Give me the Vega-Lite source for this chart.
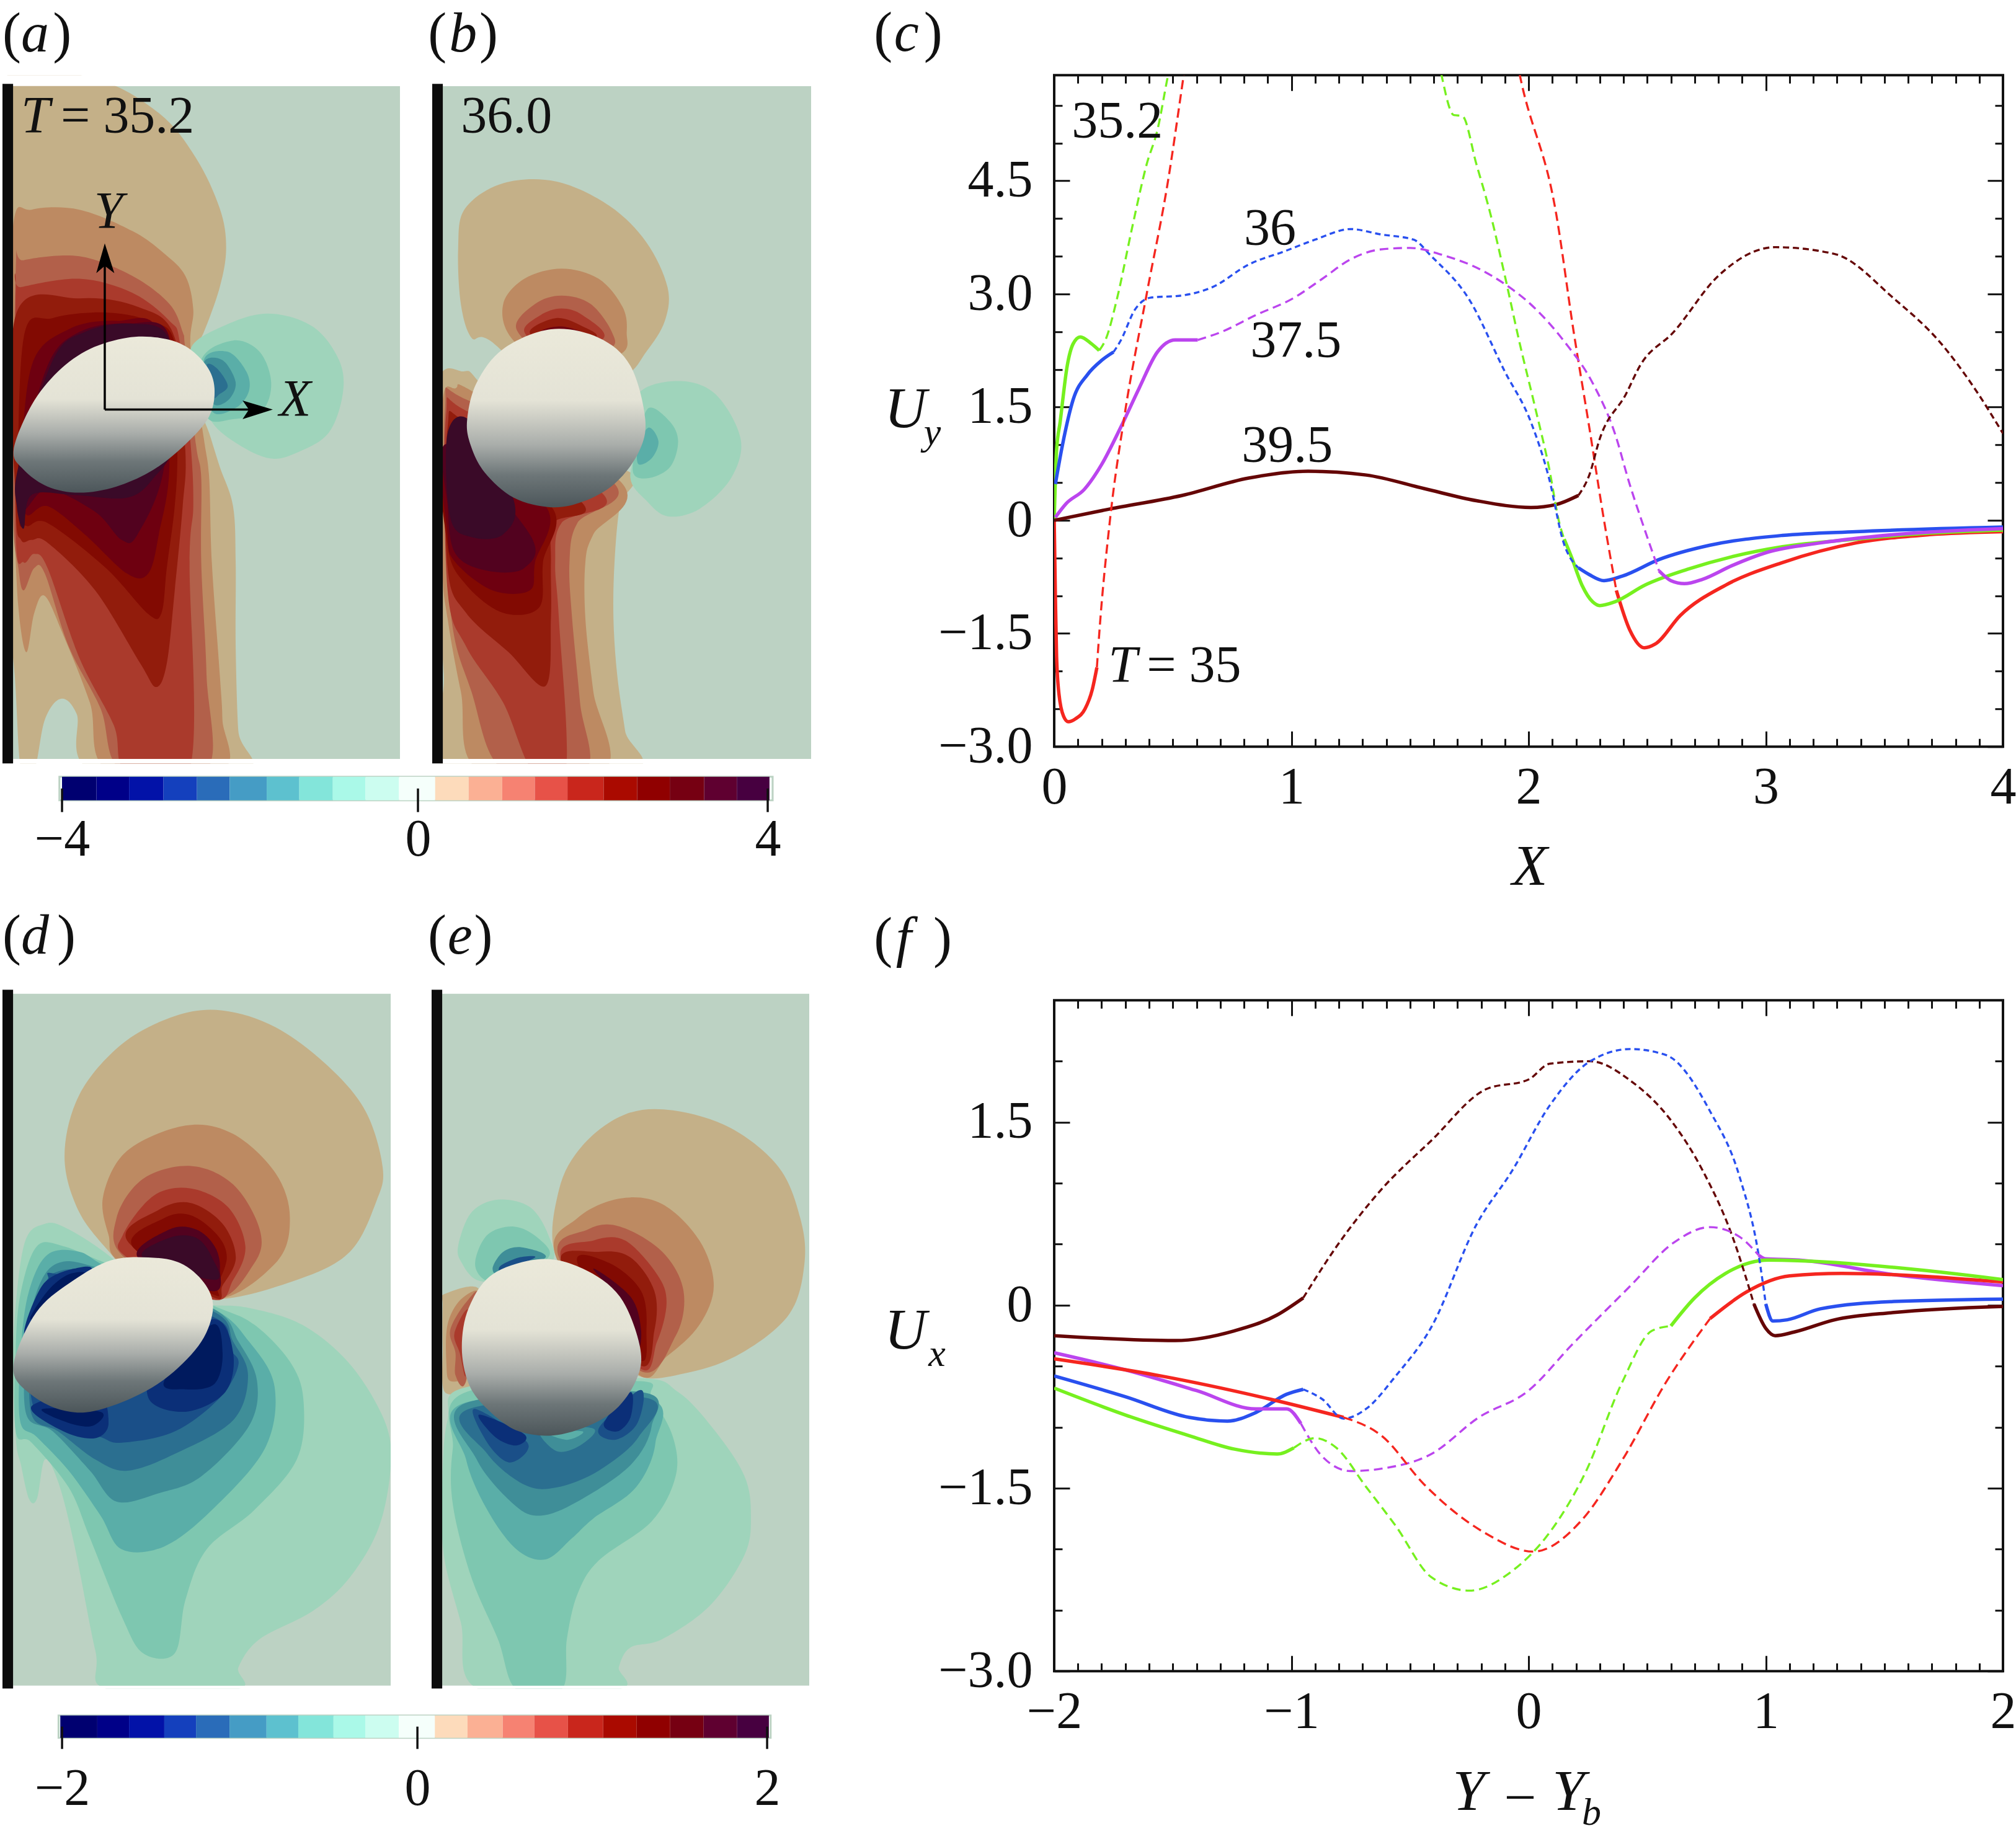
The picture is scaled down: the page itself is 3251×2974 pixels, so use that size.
{"$schema":"https://vega.github.io/schema/vega-lite/v6.json","background":"white","padding":{"left":4,"top":8.2,"right":0,"bottom":0},"spacing":99,"config":{"view":{"stroke":null},"text":{"font":"Liberation Serif","fontSize":84,"align":"left","baseline":"alphabetic","color":"#111111"},"axis":{"labelFont":"Liberation Serif","labelColor":"#111111"}},
"datasets":{
"a":[{"k":1,"l":1,"x":10,"y":140},{"k":1,"l":1,"x":180,"y":140},{"k":1,"l":1,"x":300,"y":200},{"k":1,"l":1,"x":370,"y":280},{"k":1,"l":1,"x":415,"y":370},{"k":1,"l":1,"x":427,"y":440},{"k":1,"l":1,"x":415,"y":510},{"k":1,"l":1,"x":385,"y":590},{"k":1,"l":1,"x":360,"y":640},{"k":1,"l":1,"x":380,"y":730},{"k":1,"l":1,"x":395,"y":770},{"k":1,"l":1,"x":415,"y":830},{"k":1,"l":1,"x":440,"y":900},{"k":1,"l":1,"x":445,"y":1000},{"k":1,"l":1,"x":445,"y":1150},{"k":1,"l":1,"x":450,"y":1300},{"k":1,"l":1,"x":460,"y":1370},{"k":1,"l":1,"x":175,"y":1370},{"k":1,"l":1,"x":145,"y":1270},{"k":1,"l":1,"x":115,"y":1243},{"k":1,"l":1,"x":85,"y":1280},{"k":1,"l":1,"x":65,"y":1370},{"k":1,"l":1,"x":40,"y":1370},{"k":1,"l":1,"x":28,"y":1200},{"k":1,"l":1,"x":10,"y":1000},{"k":1,"l":1,"x":10,"y":500},
{"k":2,"l":2,"x":60,"y":372},{"k":2,"l":2,"x":150,"y":372},{"k":2,"l":2,"x":250,"y":410},{"k":2,"l":2,"x":310,"y":450},{"k":2,"l":2,"x":350,"y":490},{"k":2,"l":2,"x":365,"y":550},{"k":2,"l":2,"x":360,"y":620},{"k":2,"l":2,"x":385,"y":780},{"k":2,"l":2,"x":395,"y":850},{"k":2,"l":2,"x":400,"y":1000},{"k":2,"l":2,"x":415,"y":1200},{"k":2,"l":2,"x":420,"y":1280},{"k":2,"l":2,"x":418,"y":1370},{"k":2,"l":2,"x":205,"y":1370},{"k":2,"l":2,"x":170,"y":1250},{"k":2,"l":2,"x":120,"y":1130},{"k":2,"l":2,"x":85,"y":1060},{"k":2,"l":2,"x":65,"y":1090},{"k":2,"l":2,"x":50,"y":1160},{"k":2,"l":2,"x":35,"y":1080},{"k":2,"l":2,"x":25,"y":900},{"k":2,"l":2,"x":10,"y":700},{"k":2,"l":2,"x":25,"y":400},
{"k":3,"l":3,"x":30,"y":480},{"k":3,"l":3,"x":45,"y":462},{"k":3,"l":3,"x":150,"y":455},{"k":3,"l":3,"x":250,"y":490},{"k":3,"l":3,"x":320,"y":540},{"k":3,"l":3,"x":345,"y":590},{"k":3,"l":3,"x":350,"y":620},{"k":3,"l":3,"x":370,"y":790},{"k":3,"l":3,"x":380,"y":850},{"k":3,"l":3,"x":380,"y":1000},{"k":3,"l":3,"x":390,"y":1200},{"k":3,"l":3,"x":390,"y":1370},{"k":3,"l":3,"x":230,"y":1370},{"k":3,"l":3,"x":190,"y":1260},{"k":3,"l":3,"x":130,"y":1150},{"k":3,"l":3,"x":85,"y":1020},{"k":3,"l":3,"x":65,"y":1010},{"k":3,"l":3,"x":45,"y":1050},{"k":3,"l":3,"x":35,"y":1010},{"k":3,"l":3,"x":25,"y":900},
{"k":4,"l":4,"x":30,"y":520},{"k":4,"l":4,"x":40,"y":510},{"k":4,"l":4,"x":150,"y":495},{"k":4,"l":4,"x":250,"y":520},{"k":4,"l":4,"x":320,"y":570},{"k":4,"l":4,"x":340,"y":610},{"k":4,"l":4,"x":360,"y":790},{"k":4,"l":4,"x":365,"y":900},{"k":4,"l":4,"x":358,"y":1000},{"k":4,"l":4,"x":358,"y":1370},{"k":4,"l":4,"x":238,"y":1370},{"k":4,"l":4,"x":215,"y":1290},{"k":4,"l":4,"x":150,"y":1170},{"k":4,"l":4,"x":90,"y":1010},{"k":4,"l":4,"x":65,"y":985},{"k":4,"l":4,"x":45,"y":1000},{"k":4,"l":4,"x":30,"y":950},
{"k":5,"l":5,"x":30,"y":560},{"k":5,"l":5,"x":150,"y":530},{"k":5,"l":5,"x":260,"y":545},{"k":5,"l":5,"x":330,"y":600},{"k":5,"l":5,"x":350,"y":800},{"k":5,"l":5,"x":345,"y":900},{"k":5,"l":5,"x":330,"y":1050},{"k":5,"l":5,"x":315,"y":1180},{"k":5,"l":5,"x":295,"y":1222},{"k":5,"l":5,"x":265,"y":1180},{"k":5,"l":5,"x":180,"y":1050},{"k":5,"l":5,"x":90,"y":965},{"k":5,"l":5,"x":60,"y":960},{"k":5,"l":5,"x":40,"y":960},{"k":5,"l":5,"x":30,"y":900},
{"k":6,"l":6,"x":45,"y":600},{"k":6,"l":6,"x":100,"y":565},{"k":6,"l":6,"x":200,"y":555},{"k":6,"l":6,"x":280,"y":570},{"k":6,"l":6,"x":330,"y":610},{"k":6,"l":6,"x":335,"y":800},{"k":6,"l":6,"x":330,"y":900},{"k":6,"l":6,"x":315,"y":1010},{"k":6,"l":6,"x":305,"y":1090},{"k":6,"l":6,"x":280,"y":1092},{"k":6,"l":6,"x":200,"y":1010},{"k":6,"l":6,"x":90,"y":930},{"k":6,"l":6,"x":50,"y":935},{"k":6,"l":6,"x":35,"y":900},
{"k":7,"l":7,"x":60,"y":650},{"k":7,"l":7,"x":130,"y":585},{"k":7,"l":7,"x":220,"y":570},{"k":7,"l":7,"x":300,"y":590},{"k":7,"l":7,"x":320,"y":820},{"k":7,"l":7,"x":300,"y":950},{"k":7,"l":7,"x":280,"y":1020},{"k":7,"l":7,"x":240,"y":1020},{"k":7,"l":7,"x":160,"y":950},{"k":7,"l":7,"x":90,"y":900},{"k":7,"l":7,"x":50,"y":915},{"k":7,"l":7,"x":40,"y":850},
{"k":8,"l":8,"x":90,"y":650},{"k":8,"l":8,"x":150,"y":590},{"k":8,"l":8,"x":240,"y":575},{"k":8,"l":8,"x":320,"y":600},{"k":8,"l":8,"x":310,"y":830},{"k":8,"l":8,"x":260,"y":950},{"k":8,"l":8,"x":230,"y":960},{"k":8,"l":8,"x":180,"y":910},{"k":8,"l":8,"x":90,"y":870},{"k":8,"l":8,"x":45,"y":905},{"k":8,"l":8,"x":40,"y":830},
{"k":9,"l":9,"x":35,"y":830},{"k":9,"l":9,"x":100,"y":640},{"k":9,"l":9,"x":160,"y":590},{"k":9,"l":9,"x":250,"y":575},{"k":9,"l":9,"x":320,"y":605},{"k":9,"l":9,"x":330,"y":780},{"k":9,"l":9,"x":290,"y":850},{"k":9,"l":9,"x":240,"y":885},{"k":9,"l":9,"x":140,"y":880},{"k":9,"l":9,"x":60,"y":880},{"k":9,"l":9,"x":45,"y":940},{"k":9,"l":9,"x":32,"y":900},
{"k":10,"l":-1,"x":360,"y":620},{"k":10,"l":-1,"x":420,"y":580},{"k":10,"l":-1,"x":505,"y":557},{"k":10,"l":-1,"x":590,"y":580},{"k":10,"l":-1,"x":640,"y":640},{"k":10,"l":-1,"x":647,"y":700},{"k":10,"l":-1,"x":620,"y":770},{"k":10,"l":-1,"x":560,"y":805},{"k":10,"l":-1,"x":510,"y":815},{"k":10,"l":-1,"x":450,"y":790},{"k":10,"l":-1,"x":400,"y":750},{"k":10,"l":-1,"x":380,"y":690},
{"k":11,"l":-2,"x":380,"y":640},{"k":11,"l":-2,"x":440,"y":605},{"k":11,"l":-2,"x":490,"y":625},{"k":11,"l":-2,"x":512,"y":680},{"k":11,"l":-2,"x":495,"y":730},{"k":11,"l":-2,"x":440,"y":745},{"k":11,"l":-2,"x":390,"y":740},
{"k":12,"l":-3,"x":385,"y":640},{"k":12,"l":-3,"x":430,"y":625},{"k":12,"l":-3,"x":465,"y":660},{"k":12,"l":-3,"x":470,"y":695},{"k":12,"l":-3,"x":445,"y":725},{"k":12,"l":-3,"x":400,"y":730},
{"k":13,"l":-4,"x":385,"y":645},{"k":13,"l":-4,"x":420,"y":640},{"k":13,"l":-4,"x":445,"y":680},{"k":13,"l":-4,"x":430,"y":712},{"k":13,"l":-4,"x":400,"y":715},
{"k":14,"l":-5,"x":390,"y":650},{"k":14,"l":-5,"x":410,"y":655},{"k":14,"l":-5,"x":430,"y":685},{"k":14,"l":-5,"x":415,"y":700},{"k":14,"l":-5,"x":400,"y":705}],
"ball_a":[{"x":26,"y":800},{"x":60,"y":720},{"x":110,"y":660},{"x":170,"y":620},{"x":240,"y":600},{"x":300,"y":600},{"x":350,"y":615},{"x":390,"y":650},{"x":405,"y":690},{"x":395,"y":740},{"x":350,"y":790},{"x":290,"y":835},{"x":220,"y":865},{"x":150,"y":876},{"x":90,"y":865},{"x":45,"y":835}],
"b":[{"k":1,"l":1,"x":865,"y":440},{"k":1,"l":1,"x":878,"y":370},{"k":1,"l":1,"x":950,"y":325},{"k":1,"l":1,"x":1050,"y":322},{"k":1,"l":1,"x":1150,"y":365},{"k":1,"l":1,"x":1220,"y":430},{"k":1,"l":1,"x":1260,"y":510},{"k":1,"l":1,"x":1255,"y":570},{"k":1,"l":1,"x":1220,"y":625},{"k":1,"l":1,"x":1175,"y":670},{"k":1,"l":1,"x":1050,"y":700},{"k":1,"l":1,"x":925,"y":605},{"k":1,"l":1,"x":890,"y":600},{"k":1,"l":1,"x":870,"y":540},
{"k":2,"l":2,"x":950,"y":540},{"k":2,"l":2,"x":990,"y":495},{"k":2,"l":2,"x":1060,"y":477},{"k":2,"l":2,"x":1130,"y":495},{"k":2,"l":2,"x":1175,"y":545},{"k":2,"l":2,"x":1183,"y":590},{"k":2,"l":2,"x":1170,"y":630},{"k":2,"l":2,"x":1050,"y":660},{"k":2,"l":2,"x":965,"y":600},
{"k":3,"l":3,"x":975,"y":585},{"k":3,"l":3,"x":1010,"y":540},{"k":3,"l":3,"x":1060,"y":525},{"k":3,"l":3,"x":1115,"y":540},{"k":3,"l":3,"x":1155,"y":590},{"k":3,"l":3,"x":1150,"y":620},{"k":3,"l":3,"x":1050,"y":640},
{"k":4,"l":4,"x":990,"y":590},{"k":4,"l":4,"x":1020,"y":560},{"k":4,"l":4,"x":1060,"y":548},{"k":4,"l":4,"x":1100,"y":560},{"k":4,"l":4,"x":1140,"y":600},{"k":4,"l":4,"x":1050,"y":630},
{"k":5,"l":5,"x":1000,"y":590},{"k":5,"l":5,"x":1050,"y":565},{"k":5,"l":5,"x":1100,"y":580},{"k":5,"l":5,"x":1125,"y":600},{"k":5,"l":5,"x":1050,"y":620},
{"k":6,"l":7,"x":1020,"y":590},{"k":6,"l":7,"x":1060,"y":580},{"k":6,"l":7,"x":1105,"y":595},{"k":6,"l":7,"x":1060,"y":610},
{"k":7,"l":1,"x":825,"y":690},{"k":7,"l":1,"x":875,"y":660},{"k":7,"l":1,"x":905,"y":680},{"k":7,"l":1,"x":1000,"y":800},{"k":7,"l":1,"x":1190,"y":840},{"k":7,"l":1,"x":1170,"y":900},{"k":7,"l":1,"x":1160,"y":1000},{"k":7,"l":1,"x":1158,"y":1100},{"k":7,"l":1,"x":1165,"y":1200},{"k":7,"l":1,"x":1180,"y":1300},{"k":7,"l":1,"x":1192,"y":1370},{"k":7,"l":1,"x":850,"y":1370},{"k":7,"l":1,"x":838,"y":1200},{"k":7,"l":1,"x":825,"y":1000},
{"k":8,"l":2,"x":835,"y":720},{"k":8,"l":2,"x":860,"y":690},{"k":8,"l":2,"x":900,"y":700},{"k":8,"l":2,"x":1175,"y":860},{"k":8,"l":2,"x":1120,"y":950},{"k":8,"l":2,"x":1105,"y":1000},{"k":8,"l":2,"x":1105,"y":1100},{"k":8,"l":2,"x":1120,"y":1230},{"k":8,"l":2,"x":1140,"y":1370},{"k":8,"l":2,"x":905,"y":1370},{"k":8,"l":2,"x":870,"y":1230},{"k":8,"l":2,"x":845,"y":1100},{"k":8,"l":2,"x":835,"y":1000},
{"k":9,"l":3,"x":840,"y":730},{"k":9,"l":3,"x":880,"y":710},{"k":9,"l":3,"x":1160,"y":860},{"k":9,"l":3,"x":1090,"y":930},{"k":9,"l":3,"x":1075,"y":1000},{"k":9,"l":3,"x":1080,"y":1100},{"k":9,"l":3,"x":1095,"y":1250},{"k":9,"l":3,"x":1105,"y":1370},{"k":9,"l":3,"x":950,"y":1370},{"k":9,"l":3,"x":890,"y":1230},{"k":9,"l":3,"x":850,"y":1080},
{"k":10,"l":4,"x":842,"y":740},{"k":10,"l":4,"x":880,"y":730},{"k":10,"l":4,"x":1140,"y":880},{"k":10,"l":4,"x":1060,"y":930},{"k":10,"l":4,"x":1048,"y":1000},{"k":10,"l":4,"x":1055,"y":1100},{"k":10,"l":4,"x":1068,"y":1370},{"k":10,"l":4,"x":1005,"y":1370},{"k":10,"l":4,"x":950,"y":1250},{"k":10,"l":4,"x":880,"y":1150},{"k":10,"l":4,"x":845,"y":1050},
{"k":11,"l":5,"x":845,"y":760},{"k":11,"l":5,"x":880,"y":750},{"k":11,"l":5,"x":1100,"y":895},{"k":11,"l":5,"x":1045,"y":930},{"k":11,"l":5,"x":1040,"y":1000},{"k":11,"l":5,"x":1040,"y":1100},{"k":11,"l":5,"x":1030,"y":1220},{"k":11,"l":5,"x":960,"y":1160},{"k":11,"l":5,"x":880,"y":1090},{"k":11,"l":5,"x":845,"y":1010},
{"k":12,"l":6,"x":848,"y":800},{"k":12,"l":6,"x":1040,"y":900},{"k":12,"l":6,"x":1025,"y":1000},{"k":12,"l":6,"x":1018,"y":1080},{"k":12,"l":6,"x":950,"y":1090},{"k":12,"l":6,"x":880,"y":1040},{"k":12,"l":6,"x":845,"y":970},
{"k":13,"l":7,"x":848,"y":800},{"k":13,"l":7,"x":1030,"y":900},{"k":13,"l":7,"x":1010,"y":1000},{"k":13,"l":7,"x":1000,"y":1050},{"k":13,"l":7,"x":930,"y":1050},{"k":13,"l":7,"x":860,"y":1000},{"k":13,"l":7,"x":845,"y":950},
{"k":14,"l":8,"x":846,"y":790},{"k":14,"l":8,"x":1000,"y":950},{"k":14,"l":8,"x":990,"y":1010},{"k":14,"l":8,"x":920,"y":1015},{"k":14,"l":8,"x":860,"y":985},{"k":14,"l":8,"x":845,"y":900},
{"k":15,"l":9,"x":845,"y":770},{"k":15,"l":9,"x":890,"y":750},{"k":15,"l":9,"x":970,"y":890},{"k":15,"l":9,"x":950,"y":950},{"k":15,"l":9,"x":890,"y":955},{"k":15,"l":9,"x":850,"y":920},
{"k":16,"l":-1,"x":1190,"y":850},{"k":16,"l":-1,"x":1205,"y":780},{"k":16,"l":-1,"x":1205,"y":700},{"k":16,"l":-1,"x":1280,"y":677},{"k":16,"l":-1,"x":1350,"y":700},{"k":16,"l":-1,"x":1398,"y":780},{"k":16,"l":-1,"x":1380,"y":850},{"k":16,"l":-1,"x":1320,"y":905},{"k":16,"l":-1,"x":1260,"y":918},{"k":16,"l":-1,"x":1220,"y":890},
{"k":17,"l":-2,"x":1205,"y":780},{"k":17,"l":-2,"x":1225,"y":725},{"k":17,"l":-2,"x":1265,"y":750},{"k":17,"l":-2,"x":1280,"y":785},{"k":17,"l":-2,"x":1265,"y":830},{"k":17,"l":-2,"x":1225,"y":850},{"k":17,"l":-2,"x":1195,"y":840},
{"k":18,"l":-3,"x":1205,"y":790},{"k":18,"l":-3,"x":1225,"y":760},{"k":18,"l":-3,"x":1243,"y":785},{"k":18,"l":-3,"x":1230,"y":815},{"k":18,"l":-3,"x":1205,"y":825}],
"ball_b":[{"x":882,"y":745},{"x":900,"y":680},{"x":950,"y":620},{"x":1040,"y":585},{"x":1130,"y":600},{"x":1190,"y":650},{"x":1218,"y":745},{"x":1205,"y":805},{"x":1160,"y":860},{"x":1100,"y":892},{"x":1040,"y":902},{"x":970,"y":885},{"x":915,"y":840},{"x":888,"y":790}],
"d":[{"k":1,"l":1,"x":122,"y":460},{"k":1,"l":1,"x":150,"y":350},{"k":1,"l":1,"x":230,"y":260},{"k":1,"l":1,"x":330,"y":210},{"k":1,"l":1,"x":420,"y":200},{"k":1,"l":1,"x":520,"y":230},{"k":1,"l":1,"x":620,"y":300},{"k":1,"l":1,"x":690,"y":380},{"k":1,"l":1,"x":722,"y":480},{"k":1,"l":1,"x":710,"y":540},{"k":1,"l":1,"x":660,"y":630},{"k":1,"l":1,"x":560,"y":680},{"k":1,"l":1,"x":400,"y":715},{"k":1,"l":1,"x":250,"y":680},{"k":1,"l":1,"x":215,"y":640},{"k":1,"l":1,"x":150,"y":560},
{"k":2,"l":2,"x":195,"y":530},{"k":2,"l":2,"x":240,"y":450},{"k":2,"l":2,"x":350,"y":405},{"k":2,"l":2,"x":440,"y":420},{"k":2,"l":2,"x":520,"y":490},{"k":2,"l":2,"x":547,"y":570},{"k":2,"l":2,"x":520,"y":650},{"k":2,"l":2,"x":400,"y":715},{"k":2,"l":2,"x":230,"y":650},{"k":2,"l":2,"x":205,"y":600},
{"k":3,"l":3,"x":220,"y":570},{"k":3,"l":3,"x":270,"y":500},{"k":3,"l":3,"x":360,"y":477},{"k":3,"l":3,"x":440,"y":510},{"k":3,"l":3,"x":490,"y":590},{"k":3,"l":3,"x":480,"y":650},{"k":3,"l":3,"x":400,"y":715},{"k":3,"l":3,"x":235,"y":640},
{"k":4,"l":4,"x":232,"y":600},{"k":4,"l":4,"x":290,"y":530},{"k":4,"l":4,"x":360,"y":517},{"k":4,"l":4,"x":430,"y":550},{"k":4,"l":4,"x":463,"y":620},{"k":4,"l":4,"x":440,"y":680},{"k":4,"l":4,"x":400,"y":715},{"k":4,"l":4,"x":240,"y":640},
{"k":5,"l":5,"x":240,"y":610},{"k":5,"l":5,"x":300,"y":555},{"k":5,"l":5,"x":360,"y":543},{"k":5,"l":5,"x":420,"y":580},{"k":5,"l":5,"x":445,"y":640},{"k":5,"l":5,"x":420,"y":690},{"k":5,"l":5,"x":400,"y":710},
{"k":6,"l":6,"x":250,"y":620},{"k":6,"l":6,"x":310,"y":570},{"k":6,"l":6,"x":360,"y":565},{"k":6,"l":6,"x":410,"y":600},{"k":6,"l":6,"x":428,"y":640},{"k":6,"l":6,"x":410,"y":690},{"k":6,"l":6,"x":400,"y":705},
{"k":7,"l":8,"x":260,"y":640},{"k":7,"l":8,"x":320,"y":590},{"k":7,"l":8,"x":370,"y":590},{"k":7,"l":8,"x":405,"y":620},{"k":7,"l":8,"x":415,"y":660},{"k":7,"l":8,"x":400,"y":700},
{"k":8,"l":9,"x":270,"y":640},{"k":8,"l":9,"x":320,"y":605},{"k":8,"l":9,"x":370,"y":605},{"k":8,"l":9,"x":400,"y":640},{"k":8,"l":9,"x":405,"y":680},
{"k":9,"l":-1,"x":400,"y":725},{"k":9,"l":-1,"x":470,"y":730},{"k":9,"l":-1,"x":570,"y":760},{"k":9,"l":-1,"x":660,"y":830},{"k":9,"l":-1,"x":725,"y":930},{"k":9,"l":-1,"x":737,"y":1010},{"k":9,"l":-1,"x":715,"y":1120},{"k":9,"l":-1,"x":660,"y":1210},{"k":9,"l":-1,"x":590,"y":1270},{"k":9,"l":-1,"x":490,"y":1320},{"k":9,"l":-1,"x":450,"y":1370},{"k":9,"l":-1,"x":445,"y":1410},{"k":9,"l":-1,"x":205,"y":1410},{"k":9,"l":-1,"x":180,"y":1340},{"k":9,"l":-1,"x":140,"y":1150},{"k":9,"l":-1,"x":110,"y":1040},{"k":9,"l":-1,"x":85,"y":1000},{"k":9,"l":-1,"x":70,"y":1070},{"k":9,"l":-1,"x":55,"y":1070},{"k":9,"l":-1,"x":40,"y":1010},{"k":9,"l":-1,"x":30,"y":960},{"k":9,"l":-1,"x":25,"y":800},{"k":9,"l":-1,"x":45,"y":620},{"k":9,"l":-1,"x":85,"y":580},{"k":9,"l":-1,"x":130,"y":590},{"k":9,"l":-1,"x":210,"y":640},{"k":9,"l":-1,"x":300,"y":720},
{"k":10,"l":-2,"x":400,"y":725},{"k":10,"l":-2,"x":480,"y":760},{"k":10,"l":-2,"x":550,"y":830},{"k":10,"l":-2,"x":573,"y":900},{"k":10,"l":-2,"x":560,"y":1000},{"k":10,"l":-2,"x":480,"y":1090},{"k":10,"l":-2,"x":390,"y":1160},{"k":10,"l":-2,"x":350,"y":1250},{"k":10,"l":-2,"x":330,"y":1345},{"k":10,"l":-2,"x":270,"y":1345},{"k":10,"l":-2,"x":230,"y":1280},{"k":10,"l":-2,"x":170,"y":1140},{"k":10,"l":-2,"x":130,"y":1050},{"k":10,"l":-2,"x":60,"y":970},{"k":10,"l":-2,"x":30,"y":950},{"k":10,"l":-2,"x":30,"y":800},{"k":10,"l":-2,"x":40,"y":700},{"k":10,"l":-2,"x":70,"y":620},{"k":10,"l":-2,"x":120,"y":620},{"k":10,"l":-2,"x":200,"y":650},
{"k":11,"l":-3,"x":400,"y":730},{"k":11,"l":-3,"x":470,"y":790},{"k":11,"l":-3,"x":518,"y":870},{"k":11,"l":-3,"x":500,"y":980},{"k":11,"l":-3,"x":400,"y":1090},{"k":11,"l":-3,"x":310,"y":1155},{"k":11,"l":-3,"x":230,"y":1160},{"k":11,"l":-3,"x":190,"y":1100},{"k":11,"l":-3,"x":130,"y":1020},{"k":11,"l":-3,"x":70,"y":960},{"k":11,"l":-3,"x":38,"y":930},{"k":11,"l":-3,"x":40,"y":800},{"k":11,"l":-3,"x":55,"y":700},{"k":11,"l":-3,"x":90,"y":635},{"k":11,"l":-3,"x":150,"y":630},{"k":11,"l":-3,"x":210,"y":660},
{"k":12,"l":-4,"x":400,"y":730},{"k":12,"l":-4,"x":450,"y":790},{"k":12,"l":-4,"x":485,"y":860},{"k":12,"l":-4,"x":470,"y":940},{"k":12,"l":-4,"x":380,"y":1030},{"k":12,"l":-4,"x":300,"y":1060},{"k":12,"l":-4,"x":220,"y":1075},{"k":12,"l":-4,"x":170,"y":1020},{"k":12,"l":-4,"x":100,"y":950},{"k":12,"l":-4,"x":50,"y":920},{"k":12,"l":-4,"x":50,"y":800},{"k":12,"l":-4,"x":70,"y":700},{"k":12,"l":-4,"x":110,"y":650},{"k":12,"l":-4,"x":190,"y":660},
{"k":13,"l":-5,"x":400,"y":735},{"k":13,"l":-5,"x":440,"y":790},{"k":13,"l":-5,"x":468,"y":850},{"k":13,"l":-5,"x":440,"y":930},{"k":13,"l":-5,"x":330,"y":990},{"k":13,"l":-5,"x":240,"y":1020},{"k":13,"l":-5,"x":180,"y":1000},{"k":13,"l":-5,"x":110,"y":950},{"k":13,"l":-5,"x":60,"y":920},{"k":13,"l":-5,"x":60,"y":800},{"k":13,"l":-5,"x":80,"y":700},{"k":13,"l":-5,"x":110,"y":665},{"k":13,"l":-5,"x":180,"y":670},
{"k":14,"l":-6,"x":400,"y":745},{"k":14,"l":-6,"x":430,"y":800},{"k":14,"l":-6,"x":450,"y":830},{"k":14,"l":-6,"x":415,"y":890},{"k":14,"l":-6,"x":330,"y":950},{"k":14,"l":-6,"x":230,"y":970},{"k":14,"l":-6,"x":190,"y":960},{"k":14,"l":-6,"x":120,"y":935},{"k":14,"l":-6,"x":65,"y":910},{"k":14,"l":-6,"x":60,"y":810},{"k":14,"l":-6,"x":90,"y":690},{"k":14,"l":-6,"x":120,"y":672},
{"k":15,"l":-7,"x":405,"y":750},{"k":15,"l":-7,"x":440,"y":810},{"k":15,"l":-7,"x":425,"y":880},{"k":15,"l":-7,"x":350,"y":915},{"k":15,"l":-7,"x":280,"y":890},{"k":15,"l":-7,"x":300,"y":800},
{"k":16,"l":-7,"x":60,"y":905},{"k":16,"l":-7,"x":120,"y":950},{"k":16,"l":-7,"x":180,"y":962},{"k":16,"l":-7,"x":205,"y":935},{"k":16,"l":-7,"x":180,"y":880},
{"k":17,"l":-7,"x":50,"y":780},{"k":17,"l":-7,"x":80,"y":690},{"k":17,"l":-7,"x":140,"y":660},{"k":17,"l":-7,"x":170,"y":670},
{"k":18,"l":-8,"x":400,"y":760},{"k":18,"l":-8,"x":420,"y":810},{"k":18,"l":-8,"x":405,"y":865},{"k":18,"l":-8,"x":350,"y":875},{"k":18,"l":-8,"x":310,"y":860},
{"k":19,"l":-8,"x":80,"y":910},{"k":19,"l":-8,"x":130,"y":935},{"k":19,"l":-8,"x":175,"y":940},{"k":19,"l":-8,"x":190,"y":915},
{"k":20,"l":-8,"x":60,"y":750},{"k":20,"l":-8,"x":90,"y":700},{"k":20,"l":-8,"x":130,"y":670},{"k":20,"l":-8,"x":160,"y":675}],
"ball_d":[{"x":27,"y":850},{"x":35,"y":800},{"x":75,"y":730},{"x":140,"y":680},{"x":210,"y":645},{"x":280,"y":640},{"x":340,"y":650},{"x":385,"y":685},{"x":402,"y":730},{"x":380,"y":790},{"x":320,"y":850},{"x":250,"y":890},{"x":170,"y":915},{"x":110,"y":910},{"x":60,"y":885}],
"e":[{"k":1,"l":1,"x":1050,"y":640},{"k":1,"l":1,"x":1055,"y":520},{"k":1,"l":1,"x":1100,"y":440},{"k":1,"l":1,"x":1180,"y":385},{"k":1,"l":1,"x":1270,"y":378},{"k":1,"l":1,"x":1380,"y":410},{"k":1,"l":1,"x":1470,"y":480},{"k":1,"l":1,"x":1510,"y":570},{"k":1,"l":1,"x":1518,"y":650},{"k":1,"l":1,"x":1490,"y":740},{"k":1,"l":1,"x":1400,"y":810},{"k":1,"l":1,"x":1300,"y":845},{"k":1,"l":1,"x":1200,"y":848},{"k":1,"l":1,"x":1150,"y":750},
{"k":2,"l":2,"x":1050,"y":640},{"k":2,"l":2,"x":1090,"y":570},{"k":2,"l":2,"x":1170,"y":535},{"k":2,"l":2,"x":1250,"y":545},{"k":2,"l":2,"x":1320,"y":610},{"k":2,"l":2,"x":1347,"y":690},{"k":2,"l":2,"x":1320,"y":760},{"k":2,"l":2,"x":1260,"y":815},{"k":2,"l":2,"x":1200,"y":845},
{"k":3,"l":3,"x":1055,"y":640},{"k":3,"l":3,"x":1110,"y":590},{"k":3,"l":3,"x":1170,"y":585},{"k":3,"l":3,"x":1250,"y":630},{"k":3,"l":3,"x":1290,"y":700},{"k":3,"l":3,"x":1275,"y":780},{"k":3,"l":3,"x":1205,"y":840},
{"k":4,"l":4,"x":1060,"y":645},{"k":4,"l":4,"x":1120,"y":610},{"k":4,"l":4,"x":1180,"y":610},{"k":4,"l":4,"x":1240,"y":670},{"k":4,"l":4,"x":1258,"y":720},{"k":4,"l":4,"x":1240,"y":790},{"k":4,"l":4,"x":1205,"y":835},
{"k":5,"l":5,"x":1060,"y":650},{"k":5,"l":5,"x":1130,"y":630},{"k":5,"l":5,"x":1190,"y":640},{"k":5,"l":5,"x":1235,"y":700},{"k":5,"l":5,"x":1235,"y":770},{"k":5,"l":5,"x":1205,"y":830},
{"k":6,"l":6,"x":1090,"y":650},{"k":6,"l":6,"x":1150,"y":650},{"k":6,"l":6,"x":1210,"y":700},{"k":6,"l":6,"x":1220,"y":770},{"k":6,"l":6,"x":1205,"y":820},
{"k":7,"l":8,"x":1120,"y":660},{"k":7,"l":8,"x":1190,"y":710},{"k":7,"l":8,"x":1210,"y":770},{"k":7,"l":8,"x":1200,"y":810},{"k":7,"l":8,"x":1170,"y":720},
{"k":8,"l":1,"x":836,"y":725},{"k":8,"l":1,"x":840,"y":705},{"k":8,"l":1,"x":905,"y":698},{"k":8,"l":1,"x":880,"y":800},{"k":8,"l":1,"x":890,"y":865},{"k":8,"l":1,"x":840,"y":880},{"k":8,"l":1,"x":836,"y":800},
{"k":9,"l":2,"x":845,"y":760},{"k":9,"l":2,"x":870,"y":715},{"k":9,"l":2,"x":905,"y":705},{"k":9,"l":2,"x":880,"y":800},{"k":9,"l":2,"x":885,"y":850},{"k":9,"l":2,"x":850,"y":860},{"k":9,"l":2,"x":843,"y":830},
{"k":10,"l":3,"x":850,"y":770},{"k":10,"l":3,"x":880,"y":720},{"k":10,"l":3,"x":905,"y":710},{"k":10,"l":3,"x":880,"y":860},{"k":10,"l":3,"x":860,"y":850},{"k":10,"l":3,"x":860,"y":810},
{"k":11,"l":4,"x":858,"y":775},{"k":11,"l":4,"x":885,"y":735},{"k":11,"l":4,"x":880,"y":850},{"k":11,"l":4,"x":868,"y":810},
{"k":12,"l":-1,"x":865,"y":620},{"k":12,"l":-1,"x":890,"y":560},{"k":12,"l":-1,"x":940,"y":537},{"k":12,"l":-1,"x":1000,"y":550},{"k":12,"l":-1,"x":1035,"y":600},{"k":12,"l":-1,"x":1040,"y":650},{"k":12,"l":-1,"x":950,"y":680},{"k":12,"l":-1,"x":900,"y":680},{"k":12,"l":-1,"x":872,"y":650},
{"k":13,"l":-2,"x":897,"y":650},{"k":13,"l":-2,"x":920,"y":600},{"k":13,"l":-2,"x":970,"y":585},{"k":13,"l":-2,"x":1015,"y":605},{"k":13,"l":-2,"x":1035,"y":640},{"k":13,"l":-2,"x":950,"y":680},{"k":13,"l":-2,"x":915,"y":680},
{"k":14,"l":-4,"x":930,"y":660},{"k":14,"l":-4,"x":950,"y":630},{"k":14,"l":-4,"x":985,"y":622},{"k":14,"l":-4,"x":1030,"y":640},{"k":14,"l":-4,"x":950,"y":670},
{"k":15,"l":-6,"x":945,"y":655},{"k":15,"l":-6,"x":980,"y":640},{"k":15,"l":-6,"x":1010,"y":640},{"k":15,"l":-6,"x":950,"y":665},
{"k":16,"l":-1,"x":885,"y":870},{"k":16,"l":-1,"x":845,"y":930},{"k":16,"l":-1,"x":835,"y":1050},{"k":16,"l":-1,"x":838,"y":1170},{"k":16,"l":-1,"x":870,"y":1290},{"k":16,"l":-1,"x":905,"y":1410},{"k":16,"l":-1,"x":1165,"y":1410},{"k":16,"l":-1,"x":1168,"y":1370},{"k":16,"l":-1,"x":1190,"y":1335},{"k":16,"l":-1,"x":1250,"y":1320},{"k":16,"l":-1,"x":1340,"y":1260},{"k":16,"l":-1,"x":1405,"y":1170},{"k":16,"l":-1,"x":1417,"y":1100},{"k":16,"l":-1,"x":1405,"y":1030},{"k":16,"l":-1,"x":1350,"y":950},{"k":16,"l":-1,"x":1280,"y":880},{"k":16,"l":-1,"x":1200,"y":855},
{"k":17,"l":-2,"x":880,"y":880},{"k":17,"l":-2,"x":855,"y":980},{"k":17,"l":-2,"x":855,"y":1080},{"k":17,"l":-2,"x":890,"y":1210},{"k":17,"l":-2,"x":940,"y":1320},{"k":17,"l":-2,"x":975,"y":1410},{"k":17,"l":-2,"x":1060,"y":1410},{"k":17,"l":-2,"x":1070,"y":1320},{"k":17,"l":-2,"x":1090,"y":1240},{"k":17,"l":-2,"x":1130,"y":1180},{"k":17,"l":-2,"x":1230,"y":1110},{"k":17,"l":-2,"x":1275,"y":1030},{"k":17,"l":-2,"x":1270,"y":960},{"k":17,"l":-2,"x":1230,"y":890},{"k":17,"l":-2,"x":1200,"y":860},
{"k":18,"l":-3,"x":875,"y":900},{"k":18,"l":-3,"x":880,"y":1000},{"k":18,"l":-3,"x":920,"y":1090},{"k":18,"l":-3,"x":975,"y":1160},{"k":18,"l":-3,"x":1030,"y":1178},{"k":18,"l":-3,"x":1080,"y":1140},{"k":18,"l":-3,"x":1120,"y":1105},{"k":18,"l":-3,"x":1200,"y":1050},{"k":18,"l":-3,"x":1237,"y":970},{"k":18,"l":-3,"x":1218,"y":890},
{"k":19,"l":-4,"x":878,"y":900},{"k":19,"l":-4,"x":900,"y":1000},{"k":19,"l":-4,"x":970,"y":1080},{"k":19,"l":-4,"x":1020,"y":1100},{"k":19,"l":-4,"x":1090,"y":1075},{"k":19,"l":-4,"x":1190,"y":1010},{"k":19,"l":-4,"x":1230,"y":940},{"k":19,"l":-4,"x":1210,"y":880},
{"k":20,"l":-5,"x":885,"y":910},{"k":20,"l":-5,"x":920,"y":990},{"k":20,"l":-5,"x":990,"y":1045},{"k":20,"l":-5,"x":1050,"y":1050},{"k":20,"l":-5,"x":1130,"y":1020},{"k":20,"l":-5,"x":1205,"y":960},{"k":20,"l":-5,"x":1218,"y":890},
{"k":21,"l":-6,"x":895,"y":910},{"k":21,"l":-6,"x":920,"y":970},{"k":21,"l":-6,"x":960,"y":1005},{"k":21,"l":-6,"x":995,"y":985},{"k":21,"l":-6,"x":985,"y":960},
{"k":22,"l":-6,"x":1130,"y":945},{"k":22,"l":-6,"x":1160,"y":965},{"k":22,"l":-6,"x":1200,"y":940},{"k":22,"l":-6,"x":1215,"y":890},{"k":22,"l":-6,"x":1200,"y":880},
{"k":23,"l":-4,"x":1020,"y":945},{"k":23,"l":-4,"x":1050,"y":985},{"k":23,"l":-4,"x":1095,"y":975},{"k":23,"l":-4,"x":1120,"y":945},
{"k":24,"l":-3,"x":1030,"y":950},{"k":24,"l":-3,"x":1070,"y":965},{"k":24,"l":-3,"x":1100,"y":950},
{"k":25,"l":-7,"x":905,"y":920},{"k":25,"l":-7,"x":935,"y":960},{"k":25,"l":-7,"x":975,"y":975},{"k":25,"l":-7,"x":990,"y":955},
{"k":26,"l":-7,"x":1140,"y":935},{"k":26,"l":-7,"x":1165,"y":950},{"k":26,"l":-7,"x":1190,"y":925},{"k":26,"l":-7,"x":1190,"y":880}],
"ball_e":[{"x":872,"y":800},{"x":885,"y":730},{"x":930,"y":670},{"x":1020,"y":643},{"x":1100,"y":660},{"x":1170,"y":710},{"x":1208,"y":800},{"x":1200,"y":860},{"x":1150,"y":920},{"x":1060,"y":955},{"x":980,"y":950},{"x":920,"y":910},{"x":885,"y":865}],
"bins4":[{"l":-10,"a":-4,"b":-3.61,"y":0,"y2":1},{"l":-9,"a":-3.61,"b":-3.24,"y":0,"y2":1},{"l":-8,"a":-3.24,"b":-2.85,"y":0,"y2":1},{"l":-7,"a":-2.85,"b":-2.47,"y":0,"y2":1},{"l":-6,"a":-2.47,"b":-2.1,"y":0,"y2":1},{"l":-5,"a":-2.1,"b":-1.68,"y":0,"y2":1},{"l":-4,"a":-1.68,"b":-1.31,"y":0,"y2":1},{"l":-3,"a":-1.31,"b":-0.93,"y":0,"y2":1},{"l":-2,"a":-0.93,"b":-0.56,"y":0,"y2":1},{"l":-1,"a":-0.56,"b":-0.18,"y":0,"y2":1},{"l":0,"a":-0.18,"b":0.23,"y":0,"y2":1},{"l":1,"a":0.23,"b":0.61,"y":0,"y2":1},{"l":2,"a":0.61,"b":0.99,"y":0,"y2":1},{"l":3,"a":0.99,"b":1.36,"y":0,"y2":1},{"l":4,"a":1.36,"b":1.73,"y":0,"y2":1},{"l":5,"a":1.73,"b":2.14,"y":0,"y2":1},{"l":6,"a":2.14,"b":2.52,"y":0,"y2":1},{"l":7,"a":2.52,"b":2.89,"y":0,"y2":1},{"l":8,"a":2.89,"b":3.28,"y":0,"y2":1},{"l":9,"a":3.28,"b":3.65,"y":0,"y2":1},{"l":10,"a":3.65,"b":4.02,"y":0,"y2":1}],
"bins2":[{"l":-10,"a":-2.01,"b":-1.8,"y":0,"y2":1},{"l":-9,"a":-1.8,"b":-1.62,"y":0,"y2":1},{"l":-8,"a":-1.62,"b":-1.42,"y":0,"y2":1},{"l":-7,"a":-1.42,"b":-1.24,"y":0,"y2":1},{"l":-6,"a":-1.24,"b":-1.05,"y":0,"y2":1},{"l":-5,"a":-1.05,"b":-0.84,"y":0,"y2":1},{"l":-4,"a":-0.84,"b":-0.66,"y":0,"y2":1},{"l":-3,"a":-0.66,"b":-0.46,"y":0,"y2":1},{"l":-2,"a":-0.46,"b":-0.28,"y":0,"y2":1},{"l":-1,"a":-0.28,"b":-0.09,"y":0,"y2":1},{"l":0,"a":-0.09,"b":0.115,"y":0,"y2":1},{"l":1,"a":0.115,"b":0.3,"y":0,"y2":1},{"l":2,"a":0.3,"b":0.5,"y":0,"y2":1},{"l":3,"a":0.5,"b":0.68,"y":0,"y2":1},{"l":4,"a":0.68,"b":0.87,"y":0,"y2":1},{"l":5,"a":0.87,"b":1.07,"y":0,"y2":1},{"l":6,"a":1.07,"b":1.26,"y":0,"y2":1},{"l":7,"a":1.26,"b":1.45,"y":0,"y2":1},{"l":8,"a":1.45,"b":1.64,"y":0,"y2":1},{"l":9,"a":1.64,"b":1.83,"y":0,"y2":1},{"l":10,"a":1.83,"b":2.01,"y":0,"y2":1}],
"uy":[{"s":"35","g":1,"d":0,"x":0,"y":0},{"s":"35","g":1,"d":0,"x":0.005,"y":-1},{"s":"35","g":1,"d":0,"x":0.01,"y":-1.8},{"s":"35","g":1,"d":0,"x":0.02,"y":-2.3},{"s":"35","g":1,"d":0,"x":0.04,"y":-2.6},{"s":"35","g":1,"d":0,"x":0.06,"y":-2.67},{"s":"35","g":1,"d":0,"x":0.09,"y":-2.63},{"s":"35","g":1,"d":0,"x":0.13,"y":-2.5},{"s":"35","g":1,"d":0,"x":0.16,"y":-2.25},{"s":"35","g":1,"d":0,"x":0.18,"y":-1.95},
{"s":"35","g":2,"d":1,"x":0.18,"y":-1.95},{"s":"35","g":2,"d":1,"x":0.19,"y":-1.5},{"s":"35","g":2,"d":1,"x":0.235,"y":0},{"s":"35","g":2,"d":1,"x":0.296,"y":1.38},{"s":"35","g":2,"d":1,"x":0.39,"y":3},{"s":"35","g":2,"d":1,"x":0.48,"y":4.5},{"s":"35","g":2,"d":1,"x":0.546,"y":5.9},{"s":"35","g":2,"d":1,"x":0.56,"y":6.2},
{"s":"35","g":3,"d":1,"x":1.95,"y":6.1},{"s":"35","g":3,"d":1,"x":1.963,"y":5.9},{"s":"35","g":3,"d":1,"x":2.117,"y":4.05},{"s":"35","g":3,"d":1,"x":2.19,"y":2.5},{"s":"35","g":3,"d":1,"x":2.256,"y":1.23},{"s":"35","g":3,"d":1,"x":2.318,"y":0},{"s":"35","g":3,"d":1,"x":2.37,"y":-0.93},
{"s":"35","g":4,"d":0,"x":2.37,"y":-0.93},{"s":"35","g":4,"d":0,"x":2.426,"y":-1.45},{"s":"35","g":4,"d":0,"x":2.488,"y":-1.69},{"s":"35","g":4,"d":0,"x":2.534,"y":-1.64},{"s":"35","g":4,"d":0,"x":2.64,"y":-1.26},{"s":"35","g":4,"d":0,"x":2.83,"y":-0.86},{"s":"35","g":4,"d":0,"x":3.07,"y":-0.56},{"s":"35","g":4,"d":0,"x":3.38,"y":-0.3},{"s":"35","g":4,"d":0,"x":3.69,"y":-0.19},{"s":"35","g":4,"d":0,"x":4,"y":-0.15},
{"s":"35.2","g":1,"d":0,"x":0,"y":0},{"s":"35.2","g":1,"d":0,"x":0.01,"y":0.93},{"s":"35.2","g":1,"d":0,"x":0.025,"y":1.3},{"s":"35.2","g":1,"d":0,"x":0.055,"y":2.05},{"s":"35.2","g":1,"d":0,"x":0.08,"y":2.34},{"s":"35.2","g":1,"d":0,"x":0.11,"y":2.43},{"s":"35.2","g":1,"d":0,"x":0.157,"y":2.34},{"s":"35.2","g":1,"d":0,"x":0.19,"y":2.25},
{"s":"35.2","g":2,"d":1,"x":0.19,"y":2.25},{"s":"35.2","g":2,"d":1,"x":0.22,"y":2.42},{"s":"35.2","g":2,"d":1,"x":0.265,"y":2.94},{"s":"35.2","g":2,"d":1,"x":0.33,"y":3.9},{"s":"35.2","g":2,"d":1,"x":0.39,"y":4.72},{"s":"35.2","g":2,"d":1,"x":0.435,"y":5.17},{"s":"35.2","g":2,"d":1,"x":0.48,"y":5.9},{"s":"35.2","g":2,"d":1,"x":0.5,"y":6.2},
{"s":"35.2","g":3,"d":1,"x":1.62,"y":6.1},{"s":"35.2","g":3,"d":1,"x":1.633,"y":5.9},{"s":"35.2","g":3,"d":1,"x":1.685,"y":5.37},{"s":"35.2","g":3,"d":1,"x":1.72,"y":5.36},{"s":"35.2","g":3,"d":1,"x":1.78,"y":4.72},{"s":"35.2","g":3,"d":1,"x":1.84,"y":4.05},{"s":"35.2","g":3,"d":1,"x":1.9,"y":3.24},{"s":"35.2","g":3,"d":1,"x":1.963,"y":2.34},{"s":"35.2","g":3,"d":1,"x":2.025,"y":1.53},{"s":"35.2","g":3,"d":1,"x":2.086,"y":0.7},{"s":"35.2","g":3,"d":1,"x":2.13,"y":-0.04},{"s":"35.2","g":3,"d":1,"x":2.15,"y":-0.25},
{"s":"35.2","g":4,"d":0,"x":2.15,"y":-0.25},{"s":"35.2","g":4,"d":0,"x":2.18,"y":-0.48},{"s":"35.2","g":4,"d":0,"x":2.225,"y":-0.86},{"s":"35.2","g":4,"d":0,"x":2.27,"y":-1.08},{"s":"35.2","g":4,"d":0,"x":2.3,"y":-1.13},{"s":"35.2","g":4,"d":0,"x":2.364,"y":-1.08},{"s":"35.2","g":4,"d":0,"x":2.49,"y":-0.86},{"s":"35.2","g":4,"d":0,"x":2.67,"y":-0.65},{"s":"35.2","g":4,"d":0,"x":2.86,"y":-0.48},{"s":"35.2","g":4,"d":0,"x":3.07,"y":-0.35},{"s":"35.2","g":4,"d":0,"x":3.38,"y":-0.25},{"s":"35.2","g":4,"d":0,"x":3.69,"y":-0.17},{"s":"35.2","g":4,"d":0,"x":4,"y":-0.13},
{"s":"36","g":1,"d":0,"x":0.005,"y":0.48},{"s":"36","g":1,"d":0,"x":0.035,"y":1},{"s":"36","g":1,"d":0,"x":0.08,"y":1.6},{"s":"36","g":1,"d":0,"x":0.14,"y":1.93},{"s":"36","g":1,"d":0,"x":0.2,"y":2.12},{"s":"36","g":1,"d":0,"x":0.25,"y":2.23},
{"s":"36","g":2,"d":1,"x":0.25,"y":2.23},{"s":"36","g":2,"d":1,"x":0.28,"y":2.38},{"s":"36","g":2,"d":1,"x":0.34,"y":2.79},{"s":"36","g":2,"d":1,"x":0.405,"y":2.95},{"s":"36","g":2,"d":1,"x":0.54,"y":2.98},{"s":"36","g":2,"d":1,"x":0.667,"y":3.09},{"s":"36","g":2,"d":1,"x":0.82,"y":3.39},{"s":"36","g":2,"d":1,"x":0.975,"y":3.57},{"s":"36","g":2,"d":1,"x":1.1,"y":3.72},{"s":"36","g":2,"d":1,"x":1.25,"y":3.86},{"s":"36","g":2,"d":1,"x":1.376,"y":3.79},{"s":"36","g":2,"d":1,"x":1.515,"y":3.72},{"s":"36","g":2,"d":1,"x":1.59,"y":3.5},{"s":"36","g":2,"d":1,"x":1.747,"y":2.94},{"s":"36","g":2,"d":1,"x":1.9,"y":1.97},{"s":"36","g":2,"d":1,"x":2.01,"y":1.3},{"s":"36","g":2,"d":1,"x":2.086,"y":0.56},{"s":"36","g":2,"d":1,"x":2.148,"y":-0.3},{"s":"36","g":2,"d":1,"x":2.21,"y":-0.63},
{"s":"36","g":3,"d":0,"x":2.21,"y":-0.63},{"s":"36","g":3,"d":0,"x":2.256,"y":-0.72},{"s":"36","g":3,"d":0,"x":2.318,"y":-0.8},{"s":"36","g":3,"d":0,"x":2.395,"y":-0.74},{"s":"36","g":3,"d":0,"x":2.55,"y":-0.52},{"s":"36","g":3,"d":0,"x":2.765,"y":-0.33},{"s":"36","g":3,"d":0,"x":3.07,"y":-0.2},{"s":"36","g":3,"d":0,"x":3.38,"y":-0.15},{"s":"36","g":3,"d":0,"x":4,"y":-0.09},
{"s":"37.5","g":1,"d":0,"x":0.005,"y":0.04},{"s":"37.5","g":1,"d":0,"x":0.05,"y":0.22},{"s":"37.5","g":1,"d":0,"x":0.127,"y":0.41},{"s":"37.5","g":1,"d":0,"x":0.2,"y":0.74},{"s":"37.5","g":1,"d":0,"x":0.28,"y":1.23},{"s":"37.5","g":1,"d":0,"x":0.358,"y":1.75},{"s":"37.5","g":1,"d":0,"x":0.435,"y":2.23},{"s":"37.5","g":1,"d":0,"x":0.51,"y":2.39},{"s":"37.5","g":1,"d":0,"x":0.605,"y":2.39},
{"s":"37.5","g":2,"d":1,"x":0.605,"y":2.39},{"s":"37.5","g":2,"d":1,"x":0.7,"y":2.49},{"s":"37.5","g":2,"d":1,"x":0.85,"y":2.72},{"s":"37.5","g":2,"d":1,"x":1.006,"y":2.94},{"s":"37.5","g":2,"d":1,"x":1.13,"y":3.2},{"s":"37.5","g":2,"d":1,"x":1.25,"y":3.46},{"s":"37.5","g":2,"d":1,"x":1.376,"y":3.59},{"s":"37.5","g":2,"d":1,"x":1.5,"y":3.61},{"s":"37.5","g":2,"d":1,"x":1.654,"y":3.5},{"s":"37.5","g":2,"d":1,"x":1.78,"y":3.35},{"s":"37.5","g":2,"d":1,"x":1.9,"y":3.13},{"s":"37.5","g":2,"d":1,"x":2.01,"y":2.86},{"s":"37.5","g":2,"d":1,"x":2.148,"y":2.38},{"s":"37.5","g":2,"d":1,"x":2.27,"y":1.82},{"s":"37.5","g":2,"d":1,"x":2.364,"y":1.15},{"s":"37.5","g":2,"d":1,"x":2.426,"y":0.48},{"s":"37.5","g":2,"d":1,"x":2.488,"y":-0.11},{"s":"37.5","g":2,"d":1,"x":2.55,"y":-0.67},
{"s":"37.5","g":3,"d":0,"x":2.55,"y":-0.67},{"s":"37.5","g":3,"d":0,"x":2.6,"y":-0.8},{"s":"37.5","g":3,"d":0,"x":2.657,"y":-0.84},{"s":"37.5","g":3,"d":0,"x":2.735,"y":-0.78},{"s":"37.5","g":3,"d":0,"x":2.858,"y":-0.6},{"s":"37.5","g":3,"d":0,"x":3.01,"y":-0.42},{"s":"37.5","g":3,"d":0,"x":3.23,"y":-0.3},{"s":"37.5","g":3,"d":0,"x":3.54,"y":-0.19},{"s":"37.5","g":3,"d":0,"x":4,"y":-0.11},
{"s":"39.5","g":1,"d":0,"x":0,"y":0},{"s":"39.5","g":1,"d":0,"x":0.235,"y":0.15},{"s":"39.5","g":1,"d":0,"x":0.54,"y":0.33},{"s":"39.5","g":1,"d":0,"x":0.82,"y":0.56},{"s":"39.5","g":1,"d":0,"x":1.07,"y":0.65},{"s":"39.5","g":1,"d":0,"x":1.315,"y":0.6},{"s":"39.5","g":1,"d":0,"x":1.56,"y":0.42},{"s":"39.5","g":1,"d":0,"x":1.78,"y":0.26},{"s":"39.5","g":1,"d":0,"x":2.01,"y":0.17},{"s":"39.5","g":1,"d":0,"x":2.117,"y":0.21},{"s":"39.5","g":1,"d":0,"x":2.21,"y":0.33},
{"s":"39.5","g":2,"d":1,"x":2.21,"y":0.33},{"s":"39.5","g":2,"d":1,"x":2.256,"y":0.6},{"s":"39.5","g":2,"d":1,"x":2.3,"y":1.08},{"s":"39.5","g":2,"d":1,"x":2.41,"y":1.67},{"s":"39.5","g":2,"d":1,"x":2.47,"y":2.05},{"s":"39.5","g":2,"d":1,"x":2.61,"y":2.49},{"s":"39.5","g":2,"d":1,"x":2.8,"y":3.24},{"s":"39.5","g":2,"d":1,"x":3.04,"y":3.62},{"s":"39.5","g":2,"d":1,"x":3.29,"y":3.53},{"s":"39.5","g":2,"d":1,"x":3.54,"y":2.94},{"s":"39.5","g":2,"d":1,"x":3.74,"y":2.34},{"s":"39.5","g":2,"d":1,"x":3.88,"y":1.75},{"s":"39.5","g":2,"d":1,"x":4,"y":1.15}],
"ux":[{"s":"39.5","g":1,"d":0,"x":-2,"y":-0.25},{"s":"39.5","g":1,"d":0,"x":-1.49,"y":-0.29},{"s":"39.5","g":1,"d":0,"x":-1.24,"y":-0.21},{"s":"39.5","g":1,"d":0,"x":-1.06,"y":-0.08},{"s":"39.5","g":1,"d":0,"x":-0.95,"y":0.06},
{"s":"39.5","g":2,"d":1,"x":-0.95,"y":0.06},{"s":"39.5","g":2,"d":1,"x":-0.81,"y":0.48},{"s":"39.5","g":2,"d":1,"x":-0.62,"y":0.95},{"s":"39.5","g":2,"d":1,"x":-0.41,"y":1.35},{"s":"39.5","g":2,"d":1,"x":-0.18,"y":1.77},{"s":"39.5","g":2,"d":1,"x":0,"y":1.85},{"s":"39.5","g":2,"d":1,"x":0.09,"y":1.98},{"s":"39.5","g":2,"d":1,"x":0.26,"y":2},{"s":"39.5","g":2,"d":1,"x":0.43,"y":1.84},{"s":"39.5","g":2,"d":1,"x":0.61,"y":1.49},{"s":"39.5","g":2,"d":1,"x":0.735,"y":1.1},{"s":"39.5","g":2,"d":1,"x":0.86,"y":0.56},{"s":"39.5","g":2,"d":1,"x":0.95,"y":0.01},
{"s":"39.5","g":3,"d":0,"x":0.95,"y":0.01},{"s":"39.5","g":3,"d":0,"x":1,"y":-0.19},{"s":"39.5","g":3,"d":0,"x":1.04,"y":-0.25},{"s":"39.5","g":3,"d":0,"x":1.12,"y":-0.22},{"s":"39.5","g":3,"d":0,"x":1.29,"y":-0.12},{"s":"39.5","g":3,"d":0,"x":1.54,"y":-0.06},{"s":"39.5","g":3,"d":0,"x":2,"y":-0.01},
{"s":"36","g":1,"d":0,"x":-2,"y":-0.58},{"s":"36","g":1,"d":0,"x":-1.7,"y":-0.75},{"s":"36","g":1,"d":0,"x":-1.43,"y":-0.92},{"s":"36","g":1,"d":0,"x":-1.27,"y":-0.95},{"s":"36","g":1,"d":0,"x":-1.15,"y":-0.88},{"s":"36","g":1,"d":0,"x":-1.02,"y":-0.73},{"s":"36","g":1,"d":0,"x":-0.95,"y":-0.69},
{"s":"36","g":2,"d":1,"x":-0.95,"y":-0.69},{"s":"36","g":2,"d":1,"x":-0.87,"y":-0.77},{"s":"36","g":2,"d":1,"x":-0.78,"y":-0.93},{"s":"36","g":2,"d":1,"x":-0.685,"y":-0.85},{"s":"36","g":2,"d":1,"x":-0.56,"y":-0.58},{"s":"36","g":2,"d":1,"x":-0.41,"y":-0.18},{"s":"36","g":2,"d":1,"x":-0.22,"y":0.66},{"s":"36","g":2,"d":1,"x":-0.07,"y":1.1},{"s":"36","g":2,"d":1,"x":0.09,"y":1.64},{"s":"36","g":2,"d":1,"x":0.26,"y":2},{"s":"36","g":2,"d":1,"x":0.43,"y":2.1},{"s":"36","g":2,"d":1,"x":0.58,"y":2.05},{"s":"36","g":2,"d":1,"x":0.765,"y":1.59},{"s":"36","g":2,"d":1,"x":0.89,"y":1.05},{"s":"36","g":2,"d":1,"x":0.97,"y":0.41},{"s":"36","g":2,"d":1,"x":1,"y":0.01},
{"s":"36","g":3,"d":0,"x":1,"y":0.01},{"s":"36","g":3,"d":0,"x":1.03,"y":-0.13},{"s":"36","g":3,"d":0,"x":1.09,"y":-0.12},{"s":"36","g":3,"d":0,"x":1.23,"y":-0.03},{"s":"36","g":3,"d":0,"x":1.54,"y":0.03},{"s":"36","g":3,"d":0,"x":2,"y":0.05},
{"s":"37.5","g":1,"d":0,"x":-2,"y":-0.39},{"s":"37.5","g":1,"d":0,"x":-1.7,"y":-0.53},{"s":"37.5","g":1,"d":0,"x":-1.4,"y":-0.7},{"s":"37.5","g":1,"d":0,"x":-1.15,"y":-0.85},{"s":"37.5","g":1,"d":0,"x":-1.02,"y":-0.85},{"s":"37.5","g":1,"d":0,"x":-0.96,"y":-0.97},
{"s":"37.5","g":2,"d":1,"x":-0.96,"y":-0.97},{"s":"37.5","g":2,"d":1,"x":-0.87,"y":-1.24},{"s":"37.5","g":2,"d":1,"x":-0.75,"y":-1.36},{"s":"37.5","g":2,"d":1,"x":-0.62,"y":-1.34},{"s":"37.5","g":2,"d":1,"x":-0.41,"y":-1.22},{"s":"37.5","g":2,"d":1,"x":-0.21,"y":-0.92},{"s":"37.5","g":2,"d":1,"x":0,"y":-0.7},{"s":"37.5","g":2,"d":1,"x":0.18,"y":-0.33},{"s":"37.5","g":2,"d":1,"x":0.43,"y":0.16},{"s":"37.5","g":2,"d":1,"x":0.61,"y":0.51},{"s":"37.5","g":2,"d":1,"x":0.765,"y":0.64},{"s":"37.5","g":2,"d":1,"x":0.89,"y":0.56},{"s":"37.5","g":2,"d":1,"x":0.97,"y":0.41},
{"s":"37.5","g":3,"d":0,"x":0.97,"y":0.41},{"s":"37.5","g":3,"d":0,"x":1,"y":0.38},{"s":"37.5","g":3,"d":0,"x":1.14,"y":0.37},{"s":"37.5","g":3,"d":0,"x":1.54,"y":0.25},{"s":"37.5","g":3,"d":0,"x":2,"y":0.16},
{"s":"35","g":1,"d":0,"x":-2,"y":-0.44},{"s":"35","g":1,"d":0,"x":-1.55,"y":-0.58},{"s":"35","g":1,"d":0,"x":-1.09,"y":-0.77},{"s":"35","g":1,"d":0,"x":-0.78,"y":-0.92},
{"s":"35","g":2,"d":1,"x":-0.78,"y":-0.92},{"s":"35","g":2,"d":1,"x":-0.62,"y":-1.07},{"s":"35","g":2,"d":1,"x":-0.44,"y":-1.47},{"s":"35","g":2,"d":1,"x":-0.19,"y":-1.86},{"s":"35","g":2,"d":1,"x":0.02,"y":-2.02},{"s":"35","g":2,"d":1,"x":0.225,"y":-1.76},{"s":"35","g":2,"d":1,"x":0.395,"y":-1.27},{"s":"35","g":2,"d":1,"x":0.58,"y":-0.63},{"s":"35","g":2,"d":1,"x":0.765,"y":-0.11},
{"s":"35","g":3,"d":0,"x":0.765,"y":-0.11},{"s":"35","g":3,"d":0,"x":0.92,"y":0.11},{"s":"35","g":3,"d":0,"x":1.1,"y":0.24},{"s":"35","g":3,"d":0,"x":1.32,"y":0.26},{"s":"35","g":3,"d":0,"x":2,"y":0.19},
{"s":"35.2","g":1,"d":0,"x":-2,"y":-0.68},{"s":"35.2","g":1,"d":0,"x":-1.7,"y":-0.9},{"s":"35.2","g":1,"d":0,"x":-1.43,"y":-1.07},{"s":"35.2","g":1,"d":0,"x":-1.24,"y":-1.18},{"s":"35.2","g":1,"d":0,"x":-1.06,"y":-1.22},{"s":"35.2","g":1,"d":0,"x":-0.99,"y":-1.17},
{"s":"35.2","g":2,"d":1,"x":-0.99,"y":-1.17},{"s":"35.2","g":2,"d":1,"x":-0.9,"y":-1.09},{"s":"35.2","g":2,"d":1,"x":-0.81,"y":-1.17},{"s":"35.2","g":2,"d":1,"x":-0.685,"y":-1.49},{"s":"35.2","g":2,"d":1,"x":-0.56,"y":-1.81},{"s":"35.2","g":2,"d":1,"x":-0.41,"y":-2.23},{"s":"35.2","g":2,"d":1,"x":-0.25,"y":-2.34},{"s":"35.2","g":2,"d":1,"x":-0.07,"y":-2.18},{"s":"35.2","g":2,"d":1,"x":0.09,"y":-1.86},{"s":"35.2","g":2,"d":1,"x":0.24,"y":-1.37},{"s":"35.2","g":2,"d":1,"x":0.395,"y":-0.63},{"s":"35.2","g":2,"d":1,"x":0.52,"y":-0.21},{"s":"35.2","g":2,"d":1,"x":0.6,"y":-0.17},
{"s":"35.2","g":3,"d":0,"x":0.6,"y":-0.17},{"s":"35.2","g":3,"d":0,"x":0.7,"y":0.06},{"s":"35.2","g":3,"d":0,"x":0.83,"y":0.26},{"s":"35.2","g":3,"d":0,"x":1.01,"y":0.37},{"s":"35.2","g":3,"d":0,"x":1.54,"y":0.31},{"s":"35.2","g":3,"d":0,"x":2,"y":0.21}]
},
"hconcat":[
{"vconcat":[
{"vconcat":[
{"hconcat":[
{"width":641,"height":1110,"encoding":{"x":{"field":"x","type":"quantitative","scale":{"domain":[5,755],"nice":false,"zero":false},"axis":null},"y":{"field":"y","type":"quantitative","scale":{"domain":[1358,132.5],"nice":false,"zero":false},"axis":null}},"layer":[
{"data":{"values":[{"x":25,"x2":755,"y":152,"y2":1350}]},"mark":{"type":"rect","fill":"#bcd2c3"},"encoding":{"x2":{"field":"x2"},"y2":{"field":"y2"}}},
{"data":{"name":"a"},"transform":[{"window":[{"op":"row_number","as":"o"}]}],"mark":{"type":"line","interpolate":"cardinal-closed","clip":true,"strokeWidth":0},"encoding":{"detail":{"field":"k"},"order":{"field":"o"},"fill":{"field":"l","type":"ordinal","legend":null,"scale":{"domain":[-8,-7,-6,-5,-4,-3,-2,-1,1,2,3,4,5,6,7,8,9],"range":["#001a5e","#0b2f78","#1a4f88","#2b6f90","#3f8e98","#5aaea8","#7ec7b0","#9fd4bb","#c4b088","#bd8a62","#b2604a","#aa3a2c","#921c0c","#820a02","#6e0010","#52021f","#3a0a28"]}}}},
{"data":{"name":"ball_a"},"transform":[{"window":[{"op":"row_number","as":"o"}]}],"mark":{"type":"line","interpolate":"cardinal-closed","strokeWidth":0,"fill":{"gradient":"linear","x1":0,"y1":0,"x2":0,"y2":1,"stops":[{"offset":0,"color":"#ebe9da"},{"offset":0.4,"color":"#e4e3d6"},{"offset":0.62,"color":"#a9adaa"},{"offset":0.8,"color":"#6d7678"},{"offset":1,"color":"#4c565a"}]}},"encoding":{"order":{"field":"o"}}},
{"data":{"values":[{"x":5,"x2":755,"y":132.5,"y2":152},{"x":5,"x2":755,"y":1350,"y2":1358}]},"mark":{"type":"rect","fill":"white"},"encoding":{"x2":{"field":"x2"},"y2":{"field":"y2"}}},
{"data":{"values":[{"x":5,"x2":25,"y":148,"y2":1358}]},"mark":{"type":"rect","fill":"#0c0c0c"},"encoding":{"x2":{"field":"x2"},"y2":{"field":"y2"}}},
{"data":{"values":[{"g":1,"x":198,"y":728},{"g":1,"x":198,"y":470},{"g":2,"x":198,"y":728},{"g":2,"x":480,"y":728}]},"mark":{"type":"line","stroke":"black","strokeWidth":3.5},"encoding":{"detail":{"field":"g"},"order":{"field":"y","sort":"descending"}}},
{"data":{"values":[{"g":1,"o":1,"x":198,"y":432},{"g":1,"o":2,"x":182,"y":485},{"g":1,"o":3,"x":198,"y":472},{"g":1,"o":4,"x":216,"y":485},{"g":2,"o":1,"x":515,"y":728},{"g":2,"o":2,"x":458,"y":712},{"g":2,"o":3,"x":470,"y":728},{"g":2,"o":4,"x":458,"y":745}]},"mark":{"type":"line","interpolate":"linear-closed","fill":"black","strokeWidth":0},"encoding":{"detail":{"field":"g"},"order":{"field":"o"}}},
{"data":{"values":[{"t":"= 35.2","x":115,"y":235}]},"mark":{"type":"text"},"encoding":{"text":{"field":"t"}}},
{"data":{"values":[{"t":"(","x":5,"y":90},{"t":")","x":100,"y":90}]},"mark":{"type":"text","fontSize":90},"encoding":{"text":{"field":"t"}}},
{"data":{"values":[{"t":"a","x":40,"y":90}]},"mark":{"type":"text","fontStyle":"italic","fontSize":90},"encoding":{"text":{"field":"t"}}},
{"data":{"values":[{"t":"T","x":40,"y":235},{"t":"Y","x":178,"y":405},{"t":"X","x":527,"y":740}]},"mark":{"type":"text","fontStyle":"italic"},"encoding":{"text":{"field":"t"}}}
]},
{"width":611,"height":1110,"encoding":{"x":{"field":"x","type":"quantitative","scale":{"domain":[816,1531],"nice":false,"zero":false},"axis":null},"y":{"field":"y","type":"quantitative","scale":{"domain":[1358,132.5],"nice":false,"zero":false},"axis":null}},"layer":[
{"data":{"values":[{"x":836,"x2":1531,"y":152,"y2":1350}]},"mark":{"type":"rect","fill":"#bcd2c3"},"encoding":{"x2":{"field":"x2"},"y2":{"field":"y2"}}},
{"data":{"name":"b"},"transform":[{"window":[{"op":"row_number","as":"o"}]}],"mark":{"type":"line","interpolate":"cardinal-closed","clip":true,"strokeWidth":0},"encoding":{"detail":{"field":"k"},"order":{"field":"o"},"fill":{"field":"l","type":"ordinal","legend":null,"scale":{"domain":[-8,-7,-6,-5,-4,-3,-2,-1,1,2,3,4,5,6,7,8,9],"range":["#001a5e","#0b2f78","#1a4f88","#2b6f90","#3f8e98","#5aaea8","#7ec7b0","#9fd4bb","#c4b088","#bd8a62","#b2604a","#aa3a2c","#921c0c","#820a02","#6e0010","#52021f","#3a0a28"]}}}},
{"data":{"name":"ball_b"},"transform":[{"window":[{"op":"row_number","as":"o"}]}],"mark":{"type":"line","interpolate":"cardinal-closed","strokeWidth":0,"fill":{"gradient":"linear","x1":0,"y1":0,"x2":0,"y2":1,"stops":[{"offset":0,"color":"#ebe9da"},{"offset":0.4,"color":"#e4e3d6"},{"offset":0.65,"color":"#a9adaa"},{"offset":0.82,"color":"#6d7678"},{"offset":1,"color":"#4c565a"}]}},"encoding":{"order":{"field":"o"}}},
{"data":{"values":[{"x":816,"x2":1531,"y":132.5,"y2":152},{"x":816,"x2":1531,"y":1350,"y2":1358}]},"mark":{"type":"rect","fill":"white"},"encoding":{"x2":{"field":"x2"},"y2":{"field":"y2"}}},
{"data":{"values":[{"x":816,"x2":836,"y":148,"y2":1358}]},"mark":{"type":"rect","fill":"#0c0c0c"},"encoding":{"x2":{"field":"x2"},"y2":{"field":"y2"}}},
{"data":{"values":[{"t":"36.0","x":870,"y":235}]},"mark":{"type":"text"},"encoding":{"text":{"field":"t"}}},
{"data":{"values":[{"t":"(","x":808,"y":90},{"t":")","x":905,"y":90}]},"mark":{"type":"text","fontSize":90},"encoding":{"text":{"field":"t"}}},
{"data":{"values":[{"t":"b","x":848,"y":90}]},"mark":{"type":"text","fontStyle":"italic","fontSize":90},"encoding":{"text":{"field":"t"}}}
]}
],"spacing":52,"bounds":"flush"},
{"width":1304,"height":38,"encoding":{"x":{"field":"a","type":"quantitative","scale":{"domain":[-4.675,4.492],"nice":false,"zero":false},"axis":{"values":[-4,0.035,4],"ticks":false,"domain":false,"grid":false,"title":null,"labelFontSize":84,"labelPadding":23,"labelExpr":"replace(format(datum.value,'d'),'-','–')"}},"y":{"field":"y","type":"quantitative","scale":{"domain":[0,1],"nice":false},"axis":null}},"layer":[
{"data":{"values":[{"a":-4.03,"b":4.056,"y":0,"y2":1}]},"mark":{"type":"rect","fill":"#f5fffb","stroke":"#bcd2c3","strokeWidth":3},"encoding":{"x2":{"field":"b"},"y2":{"field":"y2"}}},
{"data":{"name":"bins4"},"mark":{"type":"rect"},"encoding":{"x2":{"field":"b"},"y2":{"field":"y2"},"color":{"field":"l","type":"ordinal","legend":null,"scale":{"domain":[-10,-9,-8,-7,-6,-5,-4,-3,-2,-1,0,1,2,3,4,5,6,7,8,9,10],"range":["#000070","#000088","#0212a8","#1440bd","#2a6cb9","#459cc5","#5dc1cf","#83e5da","#aaf9e8","#ccfdf0","#f5fffb","#fddbbb","#fbb094","#f68272","#e75248","#c9261c","#aa0a00","#900000","#760012","#5f0030","#470040"]}}}},
{"data":{"values":[{"a":-4,"y":-0.5,"y2":0.5},{"a":0.035,"y":-0.5,"y2":0.5},{"a":4,"y":-0.5,"y2":0.5}]},"mark":{"type":"rule","stroke":"#111111","strokeWidth":3.5},"encoding":{"y2":{"field":"y2"}}}
]}
],"spacing":19.5},
{"vconcat":[
{"hconcat":[
{"width":626,"height":1127,"encoding":{"x":{"field":"x","type":"quantitative","scale":{"domain":[5,737],"nice":false,"zero":false},"axis":null},"y":{"field":"y","type":"quantitative","scale":{"domain":[1408,163],"nice":false,"zero":false},"axis":null}},"layer":[
{"data":{"values":[{"x":25,"x2":737,"y":170,"y2":1403}]},"mark":{"type":"rect","fill":"#bcd2c3"},"encoding":{"x2":{"field":"x2"},"y2":{"field":"y2"}}},
{"data":{"name":"d"},"transform":[{"window":[{"op":"row_number","as":"o"}]}],"mark":{"type":"line","interpolate":"cardinal-closed","clip":true,"strokeWidth":0},"encoding":{"detail":{"field":"k"},"order":{"field":"o"},"fill":{"field":"l","type":"ordinal","legend":null,"scale":{"domain":[-8,-7,-6,-5,-4,-3,-2,-1,1,2,3,4,5,6,7,8,9],"range":["#001a5e","#0b2f78","#1a4f88","#2b6f90","#3f8e98","#5aaea8","#7ec7b0","#9fd4bb","#c4b088","#bd8a62","#b2604a","#aa3a2c","#921c0c","#820a02","#6e0010","#52021f","#3a0a28"]}}}},
{"data":{"name":"ball_d"},"transform":[{"window":[{"op":"row_number","as":"o"}]}],"mark":{"type":"line","interpolate":"cardinal-closed","strokeWidth":0,"fill":{"gradient":"linear","x1":0,"y1":0,"x2":0,"y2":1,"stops":[{"offset":0,"color":"#ebe9da"},{"offset":0.4,"color":"#e4e3d6"},{"offset":0.62,"color":"#a9adaa"},{"offset":0.8,"color":"#6d7678"},{"offset":1,"color":"#4c565a"}]}},"encoding":{"order":{"field":"o"}}},
{"data":{"values":[{"x":5,"x2":737,"y":163,"y2":170},{"x":5,"x2":737,"y":1403,"y2":1408}]},"mark":{"type":"rect","fill":"white"},"encoding":{"x2":{"field":"x2"},"y2":{"field":"y2"}}},
{"data":{"values":[{"x":5,"x2":25,"y":163,"y2":1408}]},"mark":{"type":"rect","fill":"#0c0c0c"},"encoding":{"x2":{"field":"x2"},"y2":{"field":"y2"}}},
{"data":{"values":[{"t":"(","x":5,"y":99},{"t":")","x":108,"y":99}]},"mark":{"type":"text","fontSize":90},"encoding":{"text":{"field":"t"}}},
{"data":{"values":[{"t":"d","x":40,"y":99}]},"mark":{"type":"text","fontStyle":"italic","fontSize":90},"encoding":{"text":{"field":"t"}}}
]},
{"width":609,"height":1127,"encoding":{"x":{"field":"x","type":"quantitative","scale":{"domain":[815,1527],"nice":false,"zero":false},"axis":null},"y":{"field":"y","type":"quantitative","scale":{"domain":[1408,163],"nice":false,"zero":false},"axis":null}},"layer":[
{"data":{"values":[{"x":835,"x2":1527,"y":170,"y2":1403}]},"mark":{"type":"rect","fill":"#bcd2c3"},"encoding":{"x2":{"field":"x2"},"y2":{"field":"y2"}}},
{"data":{"name":"e"},"transform":[{"window":[{"op":"row_number","as":"o"}]}],"mark":{"type":"line","interpolate":"cardinal-closed","clip":true,"strokeWidth":0},"encoding":{"detail":{"field":"k"},"order":{"field":"o"},"fill":{"field":"l","type":"ordinal","legend":null,"scale":{"domain":[-8,-7,-6,-5,-4,-3,-2,-1,1,2,3,4,5,6,7,8,9],"range":["#001a5e","#0b2f78","#1a4f88","#2b6f90","#3f8e98","#5aaea8","#7ec7b0","#9fd4bb","#c4b088","#bd8a62","#b2604a","#aa3a2c","#921c0c","#820a02","#6e0010","#52021f","#3a0a28"]}}}},
{"data":{"name":"ball_e"},"transform":[{"window":[{"op":"row_number","as":"o"}]}],"mark":{"type":"line","interpolate":"cardinal-closed","strokeWidth":0,"fill":{"gradient":"linear","x1":0,"y1":0,"x2":0,"y2":1,"stops":[{"offset":0,"color":"#ebe9da"},{"offset":0.4,"color":"#e4e3d6"},{"offset":0.65,"color":"#a9adaa"},{"offset":0.82,"color":"#6d7678"},{"offset":1,"color":"#4c565a"}]}},"encoding":{"order":{"field":"o"}}},
{"data":{"values":[{"x":815,"x2":1527,"y":163,"y2":170},{"x":815,"x2":1527,"y":1403,"y2":1408}]},"mark":{"type":"rect","fill":"white"},"encoding":{"x2":{"field":"x2"},"y2":{"field":"y2"}}},
{"data":{"values":[{"x":815,"x2":835,"y":163,"y2":1408}]},"mark":{"type":"rect","fill":"#0c0c0c"},"encoding":{"x2":{"field":"x2"},"y2":{"field":"y2"}}},
{"data":{"values":[{"t":"(","x":808,"y":99},{"t":")","x":895,"y":99}]},"mark":{"type":"text","fontSize":90},"encoding":{"text":{"field":"t"}}},
{"data":{"values":[{"t":"e","x":845,"y":99}]},"mark":{"type":"text","fontStyle":"italic","fontSize":90},"encoding":{"text":{"field":"t"}}}
]}
],"spacing":66,"bounds":"flush"},
{"width":1301,"height":36,"encoding":{"x":{"field":"a","type":"quantitative","scale":{"domain":[-2.338,2.239],"nice":false,"zero":false},"axis":{"values":[-2,0.016,2],"ticks":false,"domain":false,"grid":false,"title":null,"labelFontSize":84,"labelPadding":42,"labelExpr":"replace(format(datum.value,'d'),'-','–')"}},"y":{"field":"y","type":"quantitative","scale":{"domain":[0,1],"nice":false},"axis":null}},"layer":[
{"data":{"values":[{"a":-2.02,"b":2.02,"y":0,"y2":1}]},"mark":{"type":"rect","fill":"#f5fffb","stroke":"#bcd2c3","strokeWidth":3},"encoding":{"x2":{"field":"b"},"y2":{"field":"y2"}}},
{"data":{"name":"bins2"},"mark":{"type":"rect"},"encoding":{"x2":{"field":"b"},"y2":{"field":"y2"},"color":{"field":"l","type":"ordinal","legend":null,"scale":{"domain":[-10,-9,-8,-7,-6,-5,-4,-3,-2,-1,0,1,2,3,4,5,6,7,8,9,10],"range":["#000070","#000088","#0212a8","#1440bd","#2a6cb9","#459cc5","#5dc1cf","#83e5da","#aaf9e8","#ccfdf0","#f5fffb","#fddbbb","#fbb094","#f68272","#e75248","#c9261c","#aa0a00","#900000","#760012","#5f0030","#470040"]}}}},
{"data":{"values":[{"a":-2,"y":-0.5,"y2":0.5},{"a":0.016,"y":-0.5,"y2":0.5},{"a":2,"y":-0.5,"y2":0.5}]},"mark":{"type":"rule","stroke":"#111111","strokeWidth":3.5},"encoding":{"y2":{"field":"y2"}}}
]}
],"spacing":41.5}
],"spacing":69},
{"vconcat":[
{"width":1530,"height":1083,"view":{"stroke":"#111111","strokeWidth":4},"resolve":{"axis":{"x":"independent","y":"independent"}},"layer":[
{"data":{"name":"uy"},"transform":[{"filter":"datum.d==0"}],"mark":{"type":"line","interpolate":"monotone","clip":true,"strokeWidth":5.5},"encoding":{"x":{"field":"x","type":"quantitative","scale":{"domain":[0,4],"nice":false,"zero":false},"axis":{"orient":"bottom","values":[0,0.1,0.2,0.3,0.4,0.5,0.6,0.7,0.8,0.9,1,1.1,1.2,1.3,1.4,1.5,1.6,1.7,1.8,1.9,2,2.1,2.2,2.3,2.4,2.5,2.6,2.7,2.8,2.9,3,3.1,3.2,3.3,3.4,3.5,3.6,3.7,3.8,3.9,4],"title":null,"grid":false,"domain":false,"tickColor":"#111111","tickWidth":3,"tickSize":{"condition":{"test":"datum.value%1==0","value":-25},"value":-13},"labelFontSize":84,"labelPadding":50,"labelOverlap":false,"labelFlush":false,"labelBound":false,"labelExpr":"datum.value%1==0?format(datum.value,'d'):''"}},"y":{"field":"y","type":"quantitative","scale":{"domain":[-3,5.9],"nice":false,"zero":false},"axis":{"orient":"left","values":[-3,-2.5,-2,-1.5,-1,-0.5,0,0.5,1,1.5,2,2.5,3,3.5,4,4.5,5,5.5],"title":null,"grid":false,"domain":false,"tickColor":"#111111","tickWidth":3,"tickSize":{"condition":{"test":"datum.value%1.5==0","value":-25},"value":-13},"labelFontSize":84,"labelPadding":60,"labelOverlap":false,"labelBound":false,"labelExpr":"datum.value%1.5!=0?'':datum.value==0?'0':replace(format(datum.value,'.1f'),'-','–')"}},"stroke":{"field":"s","type":"nominal","legend":null,"scale":{"domain":["35","35.2","36","37.5","39.5"],"range":["#f5261f","#76f01f","#2950ef","#bb45ee","#650606"]}},"detail":{"field":"g"}}},
{"data":{"name":"uy"},"transform":[{"filter":"datum.d==1"}],"mark":{"type":"line","interpolate":"monotone","clip":true,"strokeWidth":3.4},"encoding":{"x":{"field":"x","type":"quantitative","scale":{"domain":[0,4],"nice":false,"zero":false},"axis":{"orient":"top","values":[0,0.1,0.2,0.3,0.4,0.5,0.6,0.7,0.8,0.9,1,1.1,1.2,1.3,1.4,1.5,1.6,1.7,1.8,1.9,2,2.1,2.2,2.3,2.4,2.5,2.6,2.7,2.8,2.9,3,3.1,3.2,3.3,3.4,3.5,3.6,3.7,3.8,3.9,4],"title":null,"grid":false,"domain":false,"labels":false,"tickColor":"#111111","tickWidth":3,"tickSize":{"condition":{"test":"datum.value%1==0","value":-25},"value":-13}}},"y":{"field":"y","type":"quantitative","scale":{"domain":[-3,5.9],"nice":false,"zero":false},"axis":{"orient":"right","values":[-3,-2.5,-2,-1.5,-1,-0.5,0,0.5,1,1.5,2,2.5,3,3.5,4,4.5,5,5.5],"title":null,"grid":false,"domain":false,"labels":false,"tickColor":"#111111","tickWidth":3,"tickSize":{"condition":{"test":"datum.value%1.5==0","value":-25},"value":-13}}},"stroke":{"field":"s","type":"nominal","legend":null,"scale":{"domain":["35","35.2","36","37.5","39.5"],"range":["#f5261f","#76f01f","#2950ef","#bb45ee","#650606"]}},"strokeDash":{"field":"s","type":"nominal","legend":null,"scale":{"domain":["35","35.2","36","37.5","39.5"],"range":[[15,8],[14,8],[9,6],[14,8],[10,6]]}},"detail":{"field":"g"}}},
{"data":{"values":[{"t":"35.2","x":0.074,"y":5.07},{"t":"36","x":0.8,"y":3.65},{"t":"37.5","x":0.827,"y":2.16},{"t":"39.5","x":0.79,"y":0.77},{"t":"= 35","x":0.39,"y":-2.14}]},"mark":{"type":"text"},"encoding":{"x":{"field":"x","type":"quantitative","axis":null},"y":{"field":"y","type":"quantitative","axis":null},"text":{"field":"t"}}},
{"data":{"values":[{"t":"(","x":-0.76,"y":6.22},{"t":")","x":-0.55,"y":6.22}]},"mark":{"type":"text","fontSize":90},"encoding":{"x":{"field":"x","type":"quantitative","axis":null},"y":{"field":"y","type":"quantitative","axis":null},"text":{"field":"t"}}},
{"data":{"values":[{"t":"c","x":-0.675,"y":6.22}]},"mark":{"type":"text","fontStyle":"italic","fontSize":90},"encoding":{"x":{"field":"x","type":"quantitative","axis":null},"y":{"field":"y","type":"quantitative","axis":null},"text":{"field":"t"}}},
{"data":{"values":[{"t":"T","x":0.228,"y":-2.14}]},"mark":{"type":"text","fontStyle":"italic"},"encoding":{"x":{"field":"x","type":"quantitative","axis":null},"y":{"field":"y","type":"quantitative","axis":null},"text":{"field":"t"}}},
{"data":{"values":[{"t":"U","x":-0.716,"y":1.23},{"t":"X","x":1.93,"y":-4.83}]},"mark":{"type":"text","fontStyle":"italic","fontSize":94},"encoding":{"x":{"field":"x","type":"quantitative","axis":null},"y":{"field":"y","type":"quantitative","axis":null},"text":{"field":"t"}}},
{"data":{"values":[{"t":"y","x":-0.55,"y":1}]},"mark":{"type":"text","fontStyle":"italic","fontSize":62},"encoding":{"x":{"field":"x","type":"quantitative","axis":null},"y":{"field":"y","type":"quantitative","axis":null},"text":{"field":"t"}}}
]},
{"width":1530,"height":1082,"view":{"stroke":"#111111","strokeWidth":4},"resolve":{"axis":{"x":"independent","y":"independent"}},"layer":[
{"data":{"name":"ux"},"transform":[{"filter":"datum.d==0"}],"mark":{"type":"line","interpolate":"monotone","clip":true,"strokeWidth":5.5},"encoding":{"x":{"field":"x","type":"quantitative","scale":{"domain":[-2,2],"nice":false,"zero":false},"axis":{"orient":"bottom","values":[-2,-1.9,-1.8,-1.7,-1.6,-1.5,-1.4,-1.3,-1.2,-1.1,-1,-0.9,-0.8,-0.7,-0.6,-0.5,-0.4,-0.3,-0.2,-0.1,0,0.1,0.2,0.3,0.4,0.5,0.6,0.7,0.8,0.9,1,1.1,1.2,1.3,1.4,1.5,1.6,1.7,1.8,1.9,2],"title":null,"grid":false,"domain":false,"tickColor":"#111111","tickWidth":3,"tickSize":{"condition":{"test":"datum.value%1==0","value":-25},"value":-13},"labelFontSize":84,"labelPadding":50,"labelOverlap":false,"labelFlush":false,"labelBound":false,"labelExpr":"datum.value%1==0?replace(format(datum.value,'d'),'-','–'):''"}},"y":{"field":"y","type":"quantitative","scale":{"domain":[-3,2.5],"nice":false,"zero":false},"axis":{"orient":"left","values":[-3,-2.5,-2,-1.5,-1,-0.5,0,0.5,1,1.5,2],"title":null,"grid":false,"domain":false,"tickColor":"#111111","tickWidth":3,"tickSize":{"condition":{"test":"datum.value%1.5==0","value":-25},"value":-13},"labelFontSize":84,"labelPadding":60,"labelOverlap":false,"labelBound":false,"labelExpr":"datum.value%1.5!=0?'':datum.value==0?'0':replace(format(datum.value,'.1f'),'-','–')"}},"stroke":{"field":"s","type":"nominal","legend":null,"scale":{"domain":["35","35.2","36","37.5","39.5"],"range":["#f5261f","#76f01f","#2950ef","#bb45ee","#650606"]}},"detail":{"field":"g"}}},
{"data":{"name":"ux"},"transform":[{"filter":"datum.d==1"}],"mark":{"type":"line","interpolate":"monotone","clip":true,"strokeWidth":3.4},"encoding":{"x":{"field":"x","type":"quantitative","scale":{"domain":[-2,2],"nice":false,"zero":false},"axis":{"orient":"top","values":[-2,-1.9,-1.8,-1.7,-1.6,-1.5,-1.4,-1.3,-1.2,-1.1,-1,-0.9,-0.8,-0.7,-0.6,-0.5,-0.4,-0.3,-0.2,-0.1,0,0.1,0.2,0.3,0.4,0.5,0.6,0.7,0.8,0.9,1,1.1,1.2,1.3,1.4,1.5,1.6,1.7,1.8,1.9,2],"title":null,"grid":false,"domain":false,"labels":false,"tickColor":"#111111","tickWidth":3,"tickSize":{"condition":{"test":"datum.value%1==0","value":-25},"value":-13}}},"y":{"field":"y","type":"quantitative","scale":{"domain":[-3,2.5],"nice":false,"zero":false},"axis":{"orient":"right","values":[-3,-2.5,-2,-1.5,-1,-0.5,0,0.5,1,1.5,2],"title":null,"grid":false,"domain":false,"labels":false,"tickColor":"#111111","tickWidth":3,"tickSize":{"condition":{"test":"datum.value%1.5==0","value":-25},"value":-13}}},"stroke":{"field":"s","type":"nominal","legend":null,"scale":{"domain":["35","35.2","36","37.5","39.5"],"range":["#f5261f","#76f01f","#2950ef","#bb45ee","#650606"]}},"strokeDash":{"field":"s","type":"nominal","legend":null,"scale":{"domain":["35","35.2","36","37.5","39.5"],"range":[[15,8],[14,8],[9,6],[14,8],[10,6]]}},"detail":{"field":"g"}}},
{"data":{"values":[{"t":"–","x":-0.09,"y":-4.14}]},"mark":{"type":"text"},"encoding":{"x":{"field":"x","type":"quantitative","axis":null},"y":{"field":"y","type":"quantitative","axis":null},"text":{"field":"t"}}},
{"data":{"values":[{"t":"(","x":-2.76,"y":2.86},{"t":")","x":-2.51,"y":2.86}]},"mark":{"type":"text","fontSize":90},"encoding":{"x":{"field":"x","type":"quantitative","axis":null},"y":{"field":"y","type":"quantitative","axis":null},"text":{"field":"t"}}},
{"data":{"values":[{"t":"f","x":-2.667,"y":2.86}]},"mark":{"type":"text","fontStyle":"italic","fontSize":90},"encoding":{"x":{"field":"x","type":"quantitative","axis":null},"y":{"field":"y","type":"quantitative","axis":null},"text":{"field":"t"}}},
{"data":{"values":[{"t":"U","x":-2.716,"y":-0.356},{"t":"Y","x":-0.32,"y":-4.14},{"t":"Y","x":0.1,"y":-4.14}]},"mark":{"type":"text","fontStyle":"italic","fontSize":94},"encoding":{"x":{"field":"x","type":"quantitative","axis":null},"y":{"field":"y","type":"quantitative","axis":null},"text":{"field":"t"}}},
{"data":{"values":[{"t":"x","x":-2.53,"y":-0.5},{"t":"b","x":0.225,"y":-4.26}]},"mark":{"type":"text","fontStyle":"italic","fontSize":62},"encoding":{"x":{"field":"x","type":"quantitative","axis":null},"y":{"field":"y","type":"quantitative","axis":null},"text":{"field":"t"}}}
]}
],"spacing":409,"bounds":"flush"}
]}
